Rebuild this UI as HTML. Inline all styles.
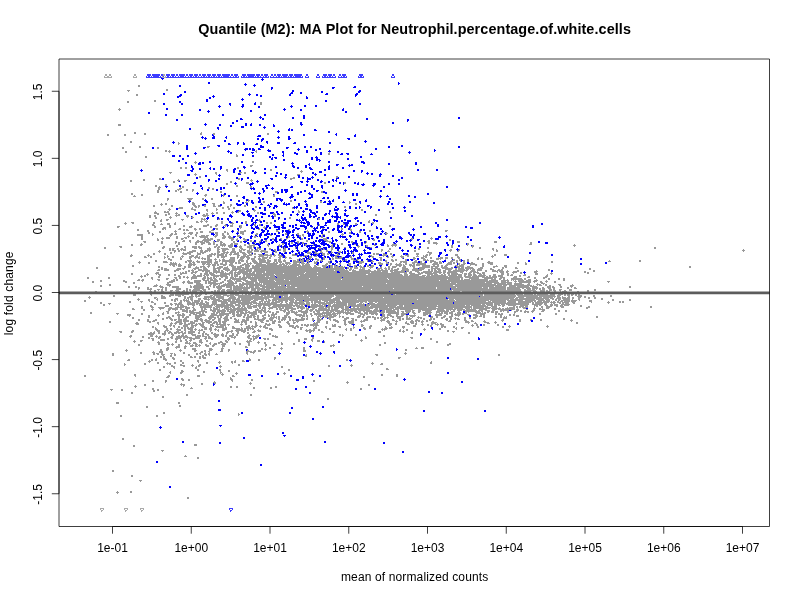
<!DOCTYPE html><html><head><meta charset="utf-8"><style>html,body{margin:0;padding:0;background:#fff;overflow:hidden}svg{display:block}</style></head><body><svg width="800" height="600" viewBox="0 0 800 600"><rect width="800" height="600" fill="#fff"/><g stroke-width="1" shape-rendering="crispEdges" fill="none"><path stroke="#999" d="M138 85.5h2m-2 1h2m26 3h2m-41 1h3m36 0h2m-40 1h1m7 3h2m-2 1h2m16 5h2m-29 1h2m25 0h2m-29 1h2m131 0h2m-2 1h2m-2 1h2m-143 4h1m-2 1h3m-2 1h1m-2 14h3m-3 1h3m13 7h2m65 0h1m-68 1h2m8 0h2m54 0h2m11 0h2m52 0h2m-162 1h2m15 0h2m18 0h2m54 0h2m11 0h2m52 0h2m-162 1h2m15 0h2m4 6h2m-2 1h2m46 0h1m-1 1h2m-2 1h1m-40 2h2m66 0h3m-88 1h2m15 0h2m16 0h2m48 0h2m-87 1h2m33 0h2m6 2h2m2 0h1m86 0h1m-132 1h2m38 0h2m1 0h3m84 0h2m-132 1h2m42 0h1m86 0h1m72 0h1m-2 1h2m-94 1h1m91 0h2m-94 1h2m-93 1h2m89 0h2m-93 1h2m48 4h1m56 0h2m-60 1h3m55 0h2m-59 1h1m54 2h3m-3 1h2m-72 1h2m3 0h2m50 0h2m-59 1h2m3 0h2m50 0h2m-13 1h2m42 0h2m-46 1h2m42 0h2m29 0h1m-75 1h1m72 0h3m-134 1h3m43 0h2m22 0h3m2 0h2m55 0h1m-132 1h1m24 0h1m19 0h2m23 0h1m3 0h2m-52 1h3m19 0h1m80 0h3m-105 1h1m101 0h1m-99 1h2m135 0h2m-139 1h2m92 0h2m41 0h2m-179 1h2m77 0h2m50 0h5m-152 1h2m14 0h3m16 0h1m59 0h2m11 0h1m38 0h2m-162 1h2m11 0h2m32 0h3m4 0h3m63 0h3m-123 1h2m41 0h2m3 0h1m5 0h2m44 0h2m19 0h1m-79 1h2m55 0h2m14 0h3m75 0h2m18 0h2m-120 1h2m18 0h3m75 0h2m18 0h2m-181 1h2m59 0h2m-73 1h2m8 0h2m69 0h2m-83 1h2m2 0h1m22 0h2m52 0h2m12 0h2m-94 1h3m19 0h1m1 0h2m24 0h2m40 0h2m-94 1h2m19 0h3m26 0h2m2 0h2m-56 1h2m17 0h4m5 0h2m4 0h2m18 0h2m-57 1h2m16 0h2m1 0h1m7 0h2m4 0h2m-37 1h2m16 0h2m3 0h2m10 0h1m27 0h2m53 0h3m43 0h2m-166 1h2m21 0h2m38 0h2m53 0h2m44 0h2m-192 1h2m-2 1h2m8 0h2m62 0h2m16 0h1m50 0h1m-141 1h1m6 0h2m61 0h3m16 0h2m11 0h2m35 0h2m-142 1h3m69 0h1m17 0h1m12 0h2m35 0h2m-108 2h2m18 0h6m9 0h2m7 0h2m-46 1h2m19 0h4m10 0h2m7 0h2m35 0h1m-82 1h1m22 0h1m57 0h2m40 0h2m-69 1h1m22 0h1m1 0h1m14 0h2m25 0h2m28 0h2m27 0h1m-158 1h2m29 0h2m20 0h3m15 0h2m55 0h2m27 0h2m-190 1h1m3 0h2m25 0h3m17 0h3m8 0h2m124 0h1m5 0h2m-197 1h3m2 0h2m25 0h3m18 0h2m15 0h2m123 0h2m-204 1h2m6 0h1m9 0h2m20 0h3m2 0h2m4 0h2m7 0h2m3 0h2m10 0h2m12 0h2m-93 1h2m16 0h2m21 0h3m1 0h2m4 0h2m7 0h3m2 0h3m6 0h2m1 0h1m13 0h2m9 0h2m87 0h2m-167 1h4m9 0h1m2 0h2m1 0h1m23 0h2m3 0h2m4 0h2m20 0h2m35 0h1m51 0h2m-177 1h1m8 0h5m8 0h2m23 0h1m5 0h2m4 0h2m3 0h2m57 0h2m-126 1h3m20 0h5m10 0h2m8 0h2m10 0h2m24 0h1m106 0h2m-194 1h1m24 0h2m10 0h2m8 0h1m22 0h2m12 0h3m42 0h1m62 0h2m-208 1h1m8 0h2m1 0h2m38 0h1m24 0h1m5 0h3m13 0h1m43 0h2m89 0h2m-237 1h3m7 0h5m7 0h1m35 0h1m3 0h2m5 0h2m6 0h3m3 0h2m18 0h2m39 0h2m89 0h2m-237 1h5m9 0h2m5 0h3m28 0h2m3 0h3m2 0h2m5 0h2m7 0h1m24 0h2m14 0h2m-118 1h2m6 0h2m1 0h2m6 0h1m1 0h2m23 0h2m1 0h2m4 0h1m60 0h3m99 0h2m-228 1h2m3 0h2m9 0h2m8 0h5m6 0h3m13 0h7m65 0h2m99 0h2m-228 1h2m3 0h2m14 0h1m5 0h1m9 0h3m3 0h1m10 0h3m1 0h1m66 0h2m-127 1h2m4 0h2m12 0h3m15 0h1m3 0h3m95 0h2m-136 1h2m13 0h1m21 0h1m8 0h2m1 0h1m14 0h1m69 0h2m27 0h2m-159 1h1m4 0h3m12 0h3m17 0h5m12 0h2m39 0h1m58 0h2m-160 1h2m4 0h2m14 0h1m18 0h1m2 0h1m1 0h1m51 0h3m108 0h1m-210 1h2m34 0h2m2 0h3m2 0h3m13 0h2m22 0h2m12 0h1m108 0h2m-245 1h1m5 0h3m19 0h2m20 0h1m20 0h3m2 0h1m4 0h1m14 0h2m9 0h1m12 0h2m19 0h2m2 0h2m96 0h2m2 0h2m-250 1h3m5 0h2m19 0h2m6 0h1m5 0h3m4 0h2m45 0h2m7 0h4m11 0h2m19 0h2m2 0h2m65 0h2m4 0h1m11 0h2m15 0h2m-249 1h1m26 0h2m6 0h3m4 0h3m4 0h2m31 0h2m7 0h2m7 0h1m6 0h1m21 0h2m3 0h2m58 0h1m17 0h2m4 0h2m10 0h2m-205 1h3m14 0h2m12 0h2m6 0h1m11 0h6m6 0h3m6 0h3m3 0h3m6 0h3m12 0h2m3 0h2m56 0h1m1 0h1m69 0h2m-274 1h3m34 0h2m13 0h2m12 0h2m4 0h4m10 0h4m3 0h2m3 0h2m8 0h1m4 0h3m7 0h2m22 0h1m81 0h2m41 0h2m-274 1h2m35 0h2m7 0h3m3 0h2m18 0h3m18 0h2m27 0h3m21 0h3m45 0h2m-151 1h4m13 0h2m13 0h2m3 0h2m14 0h3m22 0h1m18 0h1m4 0h1m57 0h2m17 0h2m7 0h1m-214 1h2m23 0h2m1 0h1m12 0h3m2 0h2m1 0h2m6 0h3m2 0h2m11 0h1m3 0h2m40 0h2m28 0h2m51 0h2m7 0h2m-215 1h2m8 0h2m26 0h1m7 0h2m1 0h3m6 0h1m15 0h3m19 0h1m10 0h2m30 0h2m11 0h1m17 0h1m42 0h2m7 0h1m9 0h2m74 0h3m-301 1h2m10 0h2m13 0h3m23 0h3m6 0h2m13 0h2m11 0h2m1 0h6m30 0h3m27 0h3m19 0h2m29 0h2m8 0h2m74 0h2m-299 1h2m9 0h2m14 0h1m8 0h1m4 0h4m3 0h2m2 0h3m6 0h5m1 0h3m6 0h2m1 0h1m10 0h1m1 0h4m63 0h1m20 0h2m19 0h2m8 0h2m25 0h1m-239 1h2m2 0h1m18 0h2m2 0h2m6 0h3m2 0h5m3 0h2m17 0h3m4 0h2m3 0h2m11 0h4m12 0h2m27 0h2m10 0h2m43 0h1m6 0h2m34 0h3m-251 1h6m9 0h2m16 0h3m1 0h3m7 0h1m5 0h2m3 0h2m19 0h2m4 0h2m3 0h2m13 0h2m11 0h3m12 0h1m14 0h2m10 0h2m3 0h2m18 0h3m16 0h3m42 0h1m-250 1h6m9 0h1m16 0h3m16 0h1m6 0h2m4 0h4m1 0h3m6 0h3m4 0h3m4 0h1m7 0h3m30 0h2m27 0h2m1 0h2m18 0h1m19 0h1m-202 1h2m27 0h1m5 0h2m9 0h3m6 0h1m2 0h9m6 0h3m6 0h3m2 0h3m6 0h3m14 0h3m31 0h2m9 0h2m2 0h1m17 0h2m-182 1h2m19 0h1m3 0h4m6 0h2m6 0h3m1 0h1m3 0h2m6 0h8m7 0h1m6 0h4m2 0h5m21 0h2m32 0h2m31 0h2m3 0h1m104 0h1m-291 1h2m14 0h1m3 0h3m2 0h4m6 0h2m3 0h3m1 0h2m5 0h2m10 0h2m1 0h2m1 0h3m9 0h3m4 0h5m3 0h1m5 0h2m27 0h2m6 0h2m4 0h2m13 0h2m20 0h4m51 0h1m32 0h2m17 0h3m-292 1h2m14 0h2m3 0h1m18 0h2m20 0h10m4 0h3m11 0h3m2 0h2m5 0h4m25 0h2m7 0h1m4 0h1m14 0h2m20 0h4m46 0h2m36 0h2m18 0h1m17 0h2m-294 1h2m24 0h2m4 0h2m6 0h2m3 0h9m6 0h3m11 0h2m3 0h2m6 0h3m3 0h2m8 0h1m4 0h2m39 0h2m16 0h4m45 0h2m53 0h2m19 0h2m-308 1h3m15 0h2m12 0h2m5 0h3m4 0h2m5 0h7m1 0h5m4 0h2m1 0h3m1 0h2m11 0h2m5 0h2m8 0h2m1 0h1m5 0h2m4 0h2m30 0h2m7 0h2m18 0h5m20 0h2m13 0h1m60 0h3m27 0h3m34 0h3m-353 1h2m15 0h2m12 0h2m1 0h2m10 0h1m4 0h4m1 0h5m1 0h4m3 0h2m5 0h3m10 0h2m5 0h2m12 0h2m3 0h1m31 0h2m4 0h2m3 0h2m25 0h2m20 0h2m13 0h1m61 0h2m3 0h4m20 0h3m34 0h3m33 0h2m-391 1h1m19 0h2m12 0h1m2 0h2m15 0h2m4 0h4m3 0h3m2 0h2m5 0h2m1 0h2m6 0h2m1 0h4m11 0h1m9 0h1m22 0h2m7 0h2m5 0h1m3 0h2m31 0h1m5 0h2m21 0h2m27 0h1m34 0h2m3 0h5m29 0h2m61 0h2m-401 1h2m7 0h3m35 0h2m15 0h2m4 0h2m5 0h3m2 0h2m1 0h2m2 0h6m4 0h3m1 0h4m6 0h2m2 0h2m3 0h2m12 0h2m10 0h1m2 0h2m21 0h2m6 0h1m18 0h1m2 0h1m5 0h2m11 0h2m18 0h1m12 0h1m4 0h5m39 0h1m30 0h2m60 0h3m42 0h1m-444 1h2m7 0h2m34 0h2m38 0h2m2 0h6m2 0h5m7 0h1m3 0h2m3 0h6m12 0h2m9 0h3m24 0h2m6 0h1m17 0h2m25 0h1m7 0h2m6 0h2m11 0h2m2 0h6m54 0h2m14 0h1m4 0h2m99 0h3m-457 1h3m41 0h2m11 0h2m6 0h2m6 0h5m1 0h2m14 0h3m1 0h2m2 0h1m1 0h1m3 0h5m4 0h1m1 0h3m5 0h5m1 0h2m13 0h1m10 0h1m2 0h1m13 0h1m34 0h2m24 0h3m6 0h2m19 0h2m3 0h1m2 0h1m55 0h2m18 0h3m100 0h1m-471 1h2m14 0h2m40 0h3m19 0h2m6 0h5m1 0h4m7 0h1m4 0h2m1 0h3m9 0h3m3 0h2m2 0h3m5 0h5m1 0h1m3 0h2m23 0h1m1 0h1m10 0h1m23 0h2m10 0h3m10 0h2m12 0h1m11 0h2m55 0h2m22 0h2m19 0h1m6 0h2m173 0h2m-552 1h2m56 0h2m5 0h2m1 0h3m2 0h2m2 0h2m2 0h1m8 0h3m2 0h3m5 0h4m6 0h2m2 0h7m4 0h3m5 0h3m6 0h3m5 0h4m8 0h2m13 0h2m9 0h1m23 0h2m2 0h1m7 0h2m56 0h2m27 0h2m7 0h2m50 0h2m11 0h2m160 0h2m-487 1h2m1 0h2m3 0h2m1 0h6m15 0h1m5 0h4m6 0h3m2 0h7m3 0h3m4 0h1m1 0h5m3 0h1m1 0h2m3 0h2m1 0h2m8 0h2m3 0h2m3 0h2m2 0h3m35 0h1m1 0h2m6 0h2m48 0h2m6 0h2m27 0h2m30 0h2m7 0h1m32 0h2m2 0h1m246 0h1m-585 1h1m9 0h2m1 0h4m2 0h2m1 0h1m1 0h3m6 0h4m4 0h3m2 0h6m6 0h2m3 0h4m6 0h3m4 0h3m1 0h2m2 0h3m1 0h2m1 0h5m2 0h5m8 0h2m3 0h2m2 0h3m35 0h1m4 0h2m3 0h1m49 0h2m5 0h1m25 0h2m33 0h3m6 0h2m33 0h1m2 0h2m244 0h3m-587 1h3m13 0h2m2 0h2m9 0h7m4 0h3m1 0h4m1 0h1m7 0h3m2 0h3m2 0h1m3 0h5m3 0h3m5 0h5m2 0h5m1 0h8m4 0h1m2 0h2m6 0h3m12 0h2m8 0h1m5 0h2m4 0h2m4 0h2m3 0h1m6 0h3m40 0h1m5 0h3m24 0h2m12 0h1m21 0h1m6 0h2m37 0h2m245 0h1m-585 1h1m10 0h2m2 0h1m8 0h1m3 0h6m4 0h1m2 0h6m11 0h3m3 0h6m1 0h6m1 0h2m1 0h5m2 0h6m8 0h1m2 0h4m5 0h1m1 0h2m7 0h1m22 0h4m4 0h2m3 0h3m8 0h2m5 0h3m11 0h2m73 0h5m-279 1h2m9 0h2m4 0h2m10 0h9m6 0h4m1 0h2m7 0h2m1 0h2m1 0h2m2 0h4m1 0h2m2 0h2m2 0h5m3 0h4m2 0h2m1 0h1m2 0h2m41 0h1m9 0h4m3 0h5m3 0h3m2 0h2m1 0h1m6 0h1m14 0h2m19 0h2m1 0h3m4 0h2m5 0h2m24 0h3m10 0h3m-301 1h1m16 0h1m4 0h2m9 0h2m17 0h4m2 0h2m6 0h4m8 0h7m1 0h7m1 0h2m2 0h3m1 0h6m4 0h4m2 0h4m1 0h2m2 0h5m1 0h4m2 0h2m2 0h1m3 0h2m12 0h3m2 0h1m19 0h1m4 0h3m2 0h2m8 0h2m34 0h2m1 0h3m4 0h4m3 0h2m13 0h1m2 0h1m7 0h3m7 0h2m1 0h2m24 0h3m36 0h2m8 0h3m-377 1h3m14 0h3m17 0h1m14 0h1m8 0h3m2 0h2m9 0h5m2 0h1m2 0h7m1 0h2m3 0h1m6 0h3m3 0h3m1 0h5m7 0h13m1 0h3m2 0h4m10 0h5m7 0h4m8 0h1m6 0h2m10 0h4m31 0h2m10 0h5m5 0h1m8 0h1m3 0h4m8 0h1m5 0h1m1 0h3m1 0h1m25 0h3m34 0h1m1 0h2m8 0h3m-377 1h2m12 0h2m2 0h1m1 0h2m12 0h1m2 0h2m3 0h2m7 0h3m5 0h5m1 0h3m1 0h1m7 0h5m5 0h2m2 0h6m10 0h2m2 0h8m5 0h2m2 0h6m3 0h1m2 0h2m2 0h1m4 0h4m2 0h1m14 0h2m1 0h2m1 0h1m2 0h3m2 0h3m15 0h1m2 0h2m4 0h1m8 0h2m8 0h1m10 0h3m9 0h1m4 0h1m2 0h3m6 0h4m3 0h2m7 0h3m4 0h4m30 0h2m32 0h3m-350 1h3m3 0h2m12 0h2m1 0h1m4 0h2m6 0h1m1 0h1m6 0h3m2 0h6m2 0h1m4 0h3m7 0h2m2 0h4m5 0h5m2 0h2m1 0h5m1 0h4m4 0h2m3 0h1m2 0h6m1 0h2m7 0h3m1 0h1m2 0h2m2 0h2m18 0h3m11 0h2m7 0h1m2 0h3m1 0h4m7 0h2m20 0h2m5 0h3m5 0h2m3 0h1m8 0h3m9 0h2m6 0h3m1 0h2m3 0h2m6 0h1m1 0h3m2 0h3m3 0h2m4 0h3m18 0h1m13 0h1m-329 1h1m3 0h2m10 0h2m7 0h2m4 0h1m2 0h2m1 0h5m1 0h3m5 0h1m7 0h1m6 0h5m2 0h1m2 0h4m3 0h3m1 0h4m3 0h3m1 0h5m2 0h2m8 0h2m4 0h1m3 0h3m7 0h2m1 0h1m6 0h2m4 0h2m6 0h2m7 0h2m1 0h7m9 0h3m26 0h2m20 0h1m10 0h3m5 0h4m5 0h2m4 0h7m2 0h3m3 0h2m5 0h2m17 0h2m2 0h2m-315 1h4m8 0h2m8 0h1m11 0h1m1 0h2m1 0h5m2 0h3m2 0h1m2 0h3m4 0h6m4 0h4m4 0h2m2 0h4m3 0h7m2 0h2m5 0h3m1 0h3m3 0h1m12 0h2m1 0h1m1 0h2m3 0h2m1 0h1m4 0h4m2 0h1m1 0h2m7 0h2m11 0h2m4 0h3m2 0h3m21 0h2m9 0h2m2 0h2m8 0h2m6 0h2m8 0h3m1 0h1m8 0h3m1 0h1m4 0h1m7 0h2m4 0h2m6 0h2m8 0h2m2 0h2m-328 1h2m13 0h2m15 0h5m5 0h1m9 0h5m3 0h1m3 0h2m1 0h13m3 0h6m2 0h2m4 0h4m3 0h7m1 0h4m3 0h3m1 0h3m2 0h3m7 0h3m1 0h2m1 0h4m2 0h3m8 0h2m1 0h3m7 0h2m10 0h2m1 0h2m6 0h3m1 0h1m9 0h1m4 0h1m7 0h2m3 0h2m4 0h3m1 0h2m8 0h2m8 0h2m6 0h6m1 0h4m17 0h4m1 0h2m1 0h2m2 0h2m2 0h2m140 0h1m29 0h2m-502 1h1m15 0h2m6 0h4m18 0h2m1 0h4m1 0h1m2 0h4m1 0h11m3 0h3m1 0h1m2 0h13m3 0h2m1 0h3m2 0h2m4 0h5m2 0h7m1 0h4m3 0h3m1 0h4m1 0h3m7 0h11m2 0h3m5 0h1m1 0h2m3 0h1m6 0h2m29 0h5m3 0h1m3 0h3m11 0h2m5 0h2m6 0h7m7 0h3m3 0h2m8 0h6m3 0h2m9 0h3m3 0h2m2 0h1m2 0h2m2 0h2m19 0h2m61 0h2m55 0h3m28 0h2m-503 1h3m7 0h2m13 0h5m2 0h2m1 0h1m1 0h1m9 0h2m2 0h2m1 0h3m2 0h3m1 0h11m2 0h4m4 0h1m2 0h2m2 0h5m1 0h2m1 0h3m5 0h2m2 0h1m2 0h5m1 0h11m3 0h2m1 0h2m1 0h3m3 0h5m3 0h7m1 0h3m4 0h2m4 0h3m11 0h2m29 0h5m8 0h1m5 0h3m5 0h2m12 0h2m1 0h4m5 0h6m2 0h2m2 0h1m5 0h2m2 0h4m1 0h3m6 0h4m1 0h2m1 0h2m5 0h2m6 0h2m14 0h6m24 0h2m6 0h1m25 0h2m-414 1h1m8 0h2m20 0h7m2 0h1m9 0h3m1 0h2m7 0h4m1 0h3m1 0h1m2 0h4m2 0h3m2 0h2m3 0h3m2 0h2m1 0h3m3 0h2m1 0h5m2 0h8m4 0h12m2 0h1m1 0h2m1 0h6m2 0h4m2 0h1m1 0h4m1 0h3m5 0h3m9 0h2m1 0h2m8 0h2m7 0h3m7 0h4m16 0h5m3 0h3m1 0h2m4 0h1m2 0h2m4 0h2m5 0h3m2 0h9m7 0h5m1 0h3m5 0h5m1 0h2m3 0h2m3 0h3m4 0h5m7 0h2m4 0h5m24 0h2m6 0h2m-358 1h8m1 0h3m7 0h8m6 0h3m1 0h5m1 0h4m1 0h2m1 0h7m2 0h4m9 0h7m1 0h1m5 0h10m1 0h10m2 0h6m1 0h2m1 0h1m2 0h8m2 0h2m1 0h5m8 0h1m6 0h3m7 0h1m3 0h2m7 0h3m28 0h4m5 0h1m1 0h2m3 0h7m1 0h1m1 0h2m2 0h3m1 0h2m1 0h10m6 0h7m7 0h6m6 0h2m1 0h4m5 0h7m5 0h2m6 0h3m32 0h2m-395 1h2m36 0h1m1 0h3m1 0h1m1 0h4m6 0h4m1 0h2m8 0h1m4 0h2m2 0h4m1 0h2m4 0h3m3 0h5m6 0h4m1 0h5m2 0h2m1 0h27m1 0h4m1 0h1m1 0h11m1 0h8m4 0h2m1 0h2m3 0h5m1 0h1m1 0h3m1 0h2m1 0h1m11 0h2m3 0h3m3 0h1m6 0h2m2 0h3m16 0h1m5 0h6m1 0h2m4 0h6m1 0h4m2 0h8m3 0h2m2 0h2m2 0h2m2 0h3m7 0h3m1 0h5m6 0h1m4 0h2m5 0h2m12 0h1m7 0h3m-375 1h2m24 0h2m13 0h2m3 0h3m3 0h2m2 0h3m5 0h1m3 0h5m2 0h3m3 0h2m4 0h4m4 0h1m3 0h5m1 0h5m3 0h5m2 0h45m1 0h13m3 0h3m5 0h5m1 0h1m1 0h3m1 0h5m1 0h3m1 0h1m9 0h2m3 0h3m1 0h1m3 0h2m1 0h4m7 0h1m6 0h2m2 0h5m2 0h2m2 0h3m4 0h1m1 0h3m7 0h8m1 0h8m2 0h2m1 0h3m7 0h1m1 0h8m3 0h3m12 0h2m9 0h5m6 0h3m182 0h2m-595 1h2m60 0h2m1 0h2m21 0h2m2 0h3m4 0h4m1 0h2m1 0h3m2 0h1m4 0h2m2 0h6m1 0h4m4 0h4m1 0h7m1 0h4m3 0h8m1 0h51m1 0h8m2 0h3m2 0h1m1 0h3m1 0h11m2 0h2m1 0h3m1 0h4m2 0h5m4 0h4m7 0h2m3 0h1m2 0h2m2 0h4m6 0h4m7 0h2m4 0h11m1 0h2m2 0h3m3 0h7m3 0h2m4 0h3m1 0h3m1 0h8m7 0h3m10 0h2m7 0h2m1 0h2m8 0h2m172 0h2m-595 1h2m63 0h2m1 0h3m10 0h4m1 0h3m8 0h6m4 0h4m6 0h8m2 0h6m3 0h9m1 0h7m1 0h94m3 0h2m1 0h2m2 0h4m2 0h1m1 0h3m5 0h1m6 0h5m2 0h3m1 0h2m1 0h2m4 0h2m3 0h6m5 0h5m1 0h6m6 0h9m2 0h11m2 0h2m1 0h6m1 0h9m4 0h5m7 0h2m10 0h2m11 0h3m71 0h2m-433 1h2m1 0h2m1 0h5m7 0h5m2 0h1m8 0h1m1 0h2m2 0h4m1 0h5m5 0h3m2 0h2m3 0h7m2 0h20m2 0h91m1 0h1m2 0h3m1 0h1m5 0h6m3 0h2m7 0h3m1 0h2m2 0h2m1 0h2m1 0h2m1 0h5m3 0h7m3 0h12m4 0h2m1 0h2m1 0h2m1 0h4m4 0h7m3 0h2m1 0h7m1 0h3m1 0h1m1 0h3m2 0h5m8 0h4m4 0h2m1 0h2m45 0h2m39 0h2m-434 1h3m4 0h5m5 0h5m9 0h2m1 0h3m4 0h12m3 0h4m1 0h2m1 0h2m2 0h5m1 0h6m2 0h6m1 0h6m2 0h80m1 0h13m1 0h2m1 0h4m3 0h12m3 0h2m1 0h11m2 0h8m3 0h8m3 0h10m6 0h2m1 0h2m1 0h3m1 0h3m2 0h3m2 0h3m2 0h15m3 0h4m2 0h5m3 0h2m5 0h4m1 0h6m4 0h1m9 0h2m17 0h1m11 0h2m43 0h2m-421 1h2m9 0h2m1 0h2m2 0h2m1 0h3m4 0h2m1 0h5m3 0h7m1 0h3m3 0h1m2 0h3m2 0h1m2 0h14m1 0h12m1 0h71m2 0h10m3 0h29m1 0h6m2 0h3m1 0h11m1 0h3m1 0h2m3 0h4m4 0h10m1 0h7m2 0h3m2 0h16m2 0h1m3 0h6m1 0h1m7 0h2m5 0h6m1 0h5m2 0h3m4 0h6m15 0h4m46 0h2m7 0h2m-439 1h3m21 0h1m1 0h2m1 0h2m4 0h6m8 0h3m1 0h3m1 0h11m1 0h1m3 0h4m1 0h14m1 0h2m1 0h3m1 0h9m1 0h39m1 0h11m1 0h19m3 0h30m1 0h17m3 0h16m2 0h3m5 0h3m1 0h11m1 0h9m1 0h3m1 0h10m3 0h3m6 0h3m1 0h6m3 0h3m12 0h1m2 0h4m2 0h2m4 0h5m3 0h2m12 0h3m14 0h1m32 0h2m1 0h2m-458 1h2m14 0h1m7 0h4m21 0h7m4 0h2m2 0h1m4 0h2m2 0h4m1 0h5m2 0h1m3 0h13m1 0h2m1 0h4m1 0h13m1 0h6m1 0h20m1 0h20m1 0h95m4 0h3m2 0h6m3 0h5m2 0h12m2 0h2m2 0h2m2 0h3m1 0h7m4 0h1m1 0h3m1 0h3m2 0h2m2 0h4m1 0h3m16 0h3m3 0h2m4 0h1m6 0h2m13 0h3m12 0h3m34 0h2m-458 1h2m13 0h3m7 0h1m1 0h3m7 0h2m4 0h2m4 0h2m11 0h2m5 0h2m2 0h5m1 0h5m5 0h10m1 0h2m1 0h6m3 0h31m1 0h91m2 0h34m2 0h4m2 0h11m6 0h6m1 0h4m3 0h2m1 0h2m2 0h2m1 0h11m2 0h3m1 0h4m1 0h3m3 0h3m1 0h2m8 0h3m5 0h3m3 0h2m2 0h2m11 0h2m9 0h3m9 0h1m3 0h1m-411 1h1m2 0h2m1 0h1m11 0h2m7 0h2m4 0h2m2 0h2m13 0h3m1 0h5m1 0h2m1 0h3m2 0h16m2 0h1m1 0h2m1 0h4m5 0h2m1 0h29m1 0h23m1 0h17m1 0h85m1 0h4m1 0h10m3 0h4m1 0h3m1 0h15m2 0h9m1 0h4m2 0h2m2 0h4m1 0h4m1 0h8m3 0h2m2 0h3m2 0h5m4 0h2m1 0h3m6 0h2m2 0h3m20 0h2m-408 1h3m1 0h2m12 0h2m18 0h3m2 0h2m2 0h1m4 0h10m2 0h2m1 0h1m5 0h6m1 0h8m3 0h2m1 0h4m1 0h2m2 0h2m1 0h5m1 0h1m1 0h11m1 0h3m1 0h5m1 0h21m1 0h127m1 0h22m1 0h13m2 0h7m1 0h13m1 0h2m1 0h2m1 0h5m1 0h5m11 0h3m2 0h2m7 0h2m15 0h3m-461 1h2m19 0h2m31 0h1m9 0h2m5 0h2m14 0h3m2 0h2m2 0h2m1 0h3m2 0h6m6 0h3m1 0h2m1 0h2m1 0h2m1 0h1m4 0h2m2 0h3m2 0h4m1 0h1m3 0h2m1 0h34m1 0h65m1 0h120m2 0h14m3 0h15m3 0h5m8 0h4m10 0h3m4 0h2m7 0h4m-460 1h2m19 0h2m41 0h2m13 0h3m6 0h2m2 0h2m6 0h1m3 0h6m5 0h4m1 0h5m1 0h3m3 0h2m4 0h3m2 0h17m1 0h61m1 0h77m1 0h72m1 0h2m6 0h10m5 0h9m1 0h2m3 0h3m1 0h2m6 0h11m2 0h2m8 0h2m7 0h2m3 0h2m8 0h2m3 0h2m-427 1h2m2 0h2m8 0h1m4 0h3m6 0h2m5 0h2m1 0h2m13 0h1m10 0h3m2 0h2m1 0h3m1 0h3m2 0h2m3 0h2m3 0h2m1 0h14m4 0h7m1 0h10m1 0h15m1 0h56m1 0h46m1 0h58m1 0h12m1 0h2m1 0h6m1 0h17m3 0h5m3 0h2m2 0h2m2 0h1m3 0h12m1 0h2m2 0h3m5 0h1m11 0h2m8 0h2m3 0h2m-465 1h2m21 0h2m12 0h3m1 0h3m14 0h2m11 0h4m1 0h2m10 0h1m5 0h7m2 0h6m1 0h8m6 0h2m1 0h5m2 0h1m1 0h5m2 0h5m3 0h6m1 0h16m1 0h14m1 0h149m1 0h48m1 0h9m3 0h8m2 0h1m1 0h1m1 0h1m2 0h6m2 0h5m3 0h4m8 0h1m16 0h2m-473 1h2m6 0h2m21 0h4m15 0h1m26 0h6m8 0h2m2 0h3m4 0h7m4 0h2m1 0h3m2 0h5m4 0h2m3 0h6m2 0h7m3 0h12m2 0h16m1 0h222m3 0h5m1 0h2m5 0h3m1 0h13m2 0h4m3 0h2m3 0h3m6 0h2m51 0h3m-518 1h2m31 0h2m6 0h2m32 0h6m9 0h3m2 0h6m1 0h6m5 0h2m1 0h8m4 0h4m4 0h6m1 0h2m5 0h2m2 0h8m1 0h3m1 0h191m1 0h34m1 0h13m2 0h11m3 0h1m3 0h12m3 0h1m5 0h3m3 0h1m7 0h2m52 0h1m-476 1h2m32 0h2m14 0h1m4 0h5m3 0h5m4 0h2m1 0h14m3 0h1m1 0h10m2 0h2m1 0h12m1 0h5m1 0h1m1 0h123m1 0h69m1 0h35m2 0h12m1 0h5m2 0h8m6 0h2m7 0h1m3 0h4m-436 1h2m45 0h1m9 0h5m25 0h7m7 0h2m1 0h5m1 0h1m3 0h11m5 0h23m1 0h233m1 0h15m2 0h10m3 0h3m6 0h5m2 0h1m1 0h2m11 0h3m11 0h1m-473 1h2m7 0h2m43 0h4m2 0h1m6 0h4m19 0h1m3 0h9m6 0h2m2 0h3m2 0h2m1 0h14m1 0h2m1 0h5m2 0h2m1 0h16m1 0h12m1 0h1m1 0h4m2 0h3m1 0h162m2 0h47m1 0h4m2 0h23m1 0h1m3 0h1m1 0h3m3 0h2m2 0h2m8 0h2m9 0h4m-474 1h2m26 0h2m5 0h2m16 0h4m2 0h4m6 0h1m2 0h7m11 0h2m1 0h11m2 0h3m1 0h1m2 0h2m1 0h9m1 0h6m1 0h10m1 0h1m1 0h2m1 0h5m1 0h4m1 0h102m1 0h131m1 0h11m3 0h7m1 0h12m1 0h7m10 0h4m1 0h2m6 0h2m8 0h3m56 0h2m-503 1h2m5 0h2m1 0h2m7 0h2m11 0h4m1 0h2m5 0h7m11 0h2m1 0h11m2 0h3m4 0h2m1 0h6m4 0h6m1 0h21m1 0h5m2 0h24m1 0h8m2 0h139m1 0h19m1 0h25m1 0h5m1 0h17m1 0h23m2 0h6m4 0h2m3 0h4m1 0h3m5 0h2m5 0h2m2 0h1m2 0h2m53 0h2m-493 1h2m7 0h2m1 0h2m10 0h1m2 0h2m9 0h5m5 0h2m6 0h10m4 0h2m7 0h5m8 0h2m1 0h17m1 0h14m1 0h8m1 0h51m1 0h66m1 0h42m1 0h13m1 0h37m1 0h17m1 0h13m2 0h2m2 0h5m1 0h6m1 0h2m1 0h3m3 0h3m2 0h2m12 0h2m5 0h3m-439 1h1m8 0h5m5 0h3m1 0h2m2 0h2m9 0h5m5 0h2m1 0h2m2 0h7m2 0h4m2 0h2m8 0h3m1 0h3m2 0h5m1 0h9m1 0h5m3 0h5m1 0h13m1 0h100m1 0h78m1 0h55m1 0h14m3 0h2m1 0h4m1 0h3m1 0h1m2 0h2m1 0h3m4 0h3m1 0h2m4 0h3m7 0h3m22 0h2m-446 1h1m3 0h2m2 0h1m2 0h2m2 0h2m3 0h3m2 0h4m4 0h2m1 0h2m1 0h2m1 0h10m1 0h3m8 0h2m1 0h3m1 0h4m1 0h22m3 0h5m1 0h3m1 0h191m1 0h68m3 0h12m4 0h5m1 0h2m1 0h3m1 0h3m3 0h2m3 0h2m3 0h3m15 0h2m5 0h2m-501 1h2m52 0h3m2 0h2m5 0h3m6 0h2m4 0h4m2 0h3m1 0h2m2 0h1m1 0h5m3 0h3m1 0h2m5 0h2m1 0h2m1 0h3m1 0h4m2 0h7m1 0h2m2 0h10m1 0h2m2 0h5m1 0h22m1 0h106m1 0h70m2 0h19m1 0h40m2 0h7m2 0h4m3 0h5m1 0h4m4 0h2m4 0h1m1 0h5m10 0h2m8 0h2m-494 1h2m53 0h1m11 0h2m8 0h2m1 0h5m1 0h4m1 0h1m1 0h1m6 0h5m3 0h3m5 0h2m1 0h9m4 0h4m1 0h20m1 0h137m1 0h73m1 0h57m2 0h2m1 0h4m2 0h2m5 0h3m3 0h4m1 0h1m7 0h7m11 0h2m-429 1h2m20 0h2m1 0h2m2 0h4m1 0h6m5 0h12m4 0h2m1 0h3m2 0h5m1 0h4m2 0h12m1 0h8m1 0h10m2 0h4m1 0h144m1 0h90m1 0h14m1 0h7m1 0h2m2 0h2m5 0h4m1 0h4m1 0h5m3 0h5m5 0h1m3 0h1m5 0h2m-447 1h3m14 0h2m18 0h4m1 0h14m2 0h2m2 0h3m1 0h3m3 0h2m6 0h14m3 0h9m3 0h1m2 0h2m1 0h4m3 0h15m1 0h17m2 0h101m2 0h2m1 0h87m1 0h31m1 0h7m1 0h9m1 0h2m1 0h11m2 0h5m3 0h5m1 0h2m1 0h3m1 0h3m1 0h2m1 0h2m-467 1h2m18 0h3m15 0h1m9 0h2m6 0h5m1 0h6m1 0h2m7 0h2m2 0h2m1 0h3m9 0h3m1 0h7m2 0h11m1 0h16m1 0h7m2 0h5m1 0h3m1 0h3m1 0h13m2 0h13m1 0h3m1 0h26m1 0h148m1 0h32m1 0h38m2 0h4m3 0h2m1 0h3m1 0h2m2 0h2m1 0h4m11 0h2m15 0h2m-523 1h1m23 0h2m46 0h4m4 0h2m7 0h3m3 0h2m3 0h5m1 0h5m4 0h8m1 0h2m1 0h8m3 0h2m1 0h5m3 0h25m1 0h10m1 0h4m2 0h2m1 0h4m1 0h45m2 0h143m1 0h36m2 0h20m1 0h17m1 0h3m2 0h1m5 0h2m7 0h5m2 0h2m7 0h2m15 0h2m-524 1h3m63 0h3m4 0h5m18 0h2m1 0h6m3 0h1m7 0h11m1 0h8m5 0h7m2 0h41m2 0h28m1 0h22m3 0h48m1 0h62m1 0h68m1 0h8m2 0h16m1 0h10m1 0h1m2 0h4m1 0h4m1 0h3m2 0h2m4 0h3m3 0h2m2 0h2m4 0h2m-507 1h1m48 0h1m15 0h2m1 0h1m3 0h5m9 0h3m6 0h2m1 0h2m1 0h3m5 0h3m2 0h4m1 0h1m1 0h6m2 0h6m4 0h8m1 0h3m1 0h28m4 0h21m1 0h36m2 0h113m2 0h66m1 0h3m1 0h30m1 0h4m2 0h5m1 0h8m2 0h2m4 0h2m8 0h2m4 0h2m5 0h2m-466 1h3m8 0h2m6 0h2m13 0h2m1 0h4m5 0h2m1 0h1m1 0h1m1 0h3m5 0h3m3 0h6m1 0h9m2 0h9m1 0h8m1 0h12m1 0h10m1 0h2m1 0h2m2 0h23m1 0h44m1 0h16m1 0h59m1 0h30m1 0h5m1 0h54m1 0h25m1 0h8m1 0h5m2 0h2m1 0h2m1 0h3m2 0h7m2 0h1m5 0h2m21 0h2m9 0h2m15 0h2m-547 1h2m52 0h1m9 0h2m7 0h1m13 0h2m1 0h2m1 0h1m2 0h2m1 0h6m2 0h2m1 0h6m1 0h2m5 0h1m4 0h9m1 0h8m1 0h3m1 0h15m2 0h5m3 0h3m2 0h1m1 0h3m1 0h5m1 0h10m1 0h5m1 0h8m1 0h14m1 0h2m1 0h18m2 0h113m1 0h33m1 0h16m1 0h16m2 0h11m2 0h7m1 0h4m5 0h2m1 0h2m1 0h9m1 0h6m2 0h1m9 0h3m20 0h2m15 0h2m-547 1h2m43 0h2m9 0h3m6 0h1m1 0h2m21 0h2m4 0h2m2 0h1m1 0h4m2 0h1m1 0h6m1 0h2m2 0h2m5 0h5m1 0h9m1 0h13m1 0h8m1 0h5m3 0h4m1 0h6m2 0h2m1 0h8m2 0h3m2 0h4m1 0h2m2 0h10m2 0h2m1 0h7m3 0h4m1 0h6m1 0h5m1 0h25m1 0h118m2 0h3m1 0h14m2 0h8m2 0h15m1 0h2m1 0h5m1 0h7m1 0h1m1 0h2m2 0h2m1 0h3m1 0h6m1 0h5m13 0h3m16 0h1m10 0h2m1 0h2m-524 1h2m27 0h2m10 0h1m9 0h3m10 0h2m13 0h3m5 0h4m1 0h7m1 0h3m2 0h4m3 0h5m4 0h7m2 0h27m2 0h2m1 0h1m1 0h2m1 0h3m1 0h9m1 0h2m2 0h2m2 0h15m2 0h4m1 0h2m1 0h11m1 0h33m1 0h3m2 0h2m2 0h4m2 0h2m1 0h75m1 0h52m1 0h9m2 0h13m1 0h2m1 0h14m1 0h6m1 0h4m1 0h7m3 0h3m16 0h1m15 0h3m9 0h2m1 0h2m-524 1h2m6 0h3m43 0h2m8 0h2m4 0h2m2 0h3m1 0h4m5 0h8m1 0h9m1 0h3m3 0h5m4 0h7m2 0h6m2 0h14m1 0h24m3 0h2m4 0h2m1 0h4m1 0h11m1 0h4m2 0h1m1 0h2m2 0h15m1 0h1m1 0h11m1 0h8m3 0h3m1 0h1m3 0h1m1 0h6m2 0h35m2 0h39m1 0h39m1 0h35m3 0h2m1 0h8m1 0h3m4 0h1m1 0h2m4 0h2m1 0h2m1 0h4m4 0h2m33 0h1m-506 1h2m4 0h1m44 0h2m14 0h3m2 0h8m4 0h8m1 0h2m1 0h10m2 0h14m1 0h7m2 0h5m1 0h8m1 0h3m3 0h1m1 0h35m2 0h3m1 0h11m1 0h7m1 0h2m1 0h5m1 0h3m2 0h14m1 0h8m1 0h8m1 0h20m1 0h94m1 0h3m1 0h7m1 0h6m1 0h4m1 0h23m3 0h10m2 0h3m3 0h3m1 0h4m3 0h9m-467 1h2m45 0h2m13 0h4m2 0h1m3 0h1m1 0h2m1 0h4m4 0h1m3 0h3m4 0h3m1 0h10m1 0h1m1 0h18m1 0h6m1 0h3m2 0h4m2 0h9m1 0h8m2 0h27m1 0h2m1 0h1m2 0h3m1 0h12m1 0h2m2 0h3m1 0h15m1 0h17m1 0h4m1 0h26m2 0h4m1 0h33m1 0h27m1 0h4m1 0h15m1 0h6m1 0h3m1 0h3m1 0h3m3 0h8m4 0h8m6 0h4m1 0h2m4 0h3m2 0h3m1 0h4m2 0h3m1 0h5m11 0h2m-441 1h2m7 0h3m12 0h4m8 0h2m1 0h7m6 0h1m6 0h12m3 0h14m1 0h5m3 0h3m1 0h3m2 0h10m1 0h3m2 0h2m3 0h2m2 0h20m1 0h2m1 0h8m3 0h1m2 0h16m1 0h17m1 0h5m1 0h18m1 0h26m1 0h6m1 0h68m1 0h15m3 0h6m5 0h2m9 0h2m1 0h2m1 0h5m1 0h3m6 0h1m1 0h2m3 0h2m3 0h6m4 0h2m2 0h4m16 0h2m6 0h2m60 0h2m-511 1h2m8 0h3m4 0h7m4 0h3m3 0h9m1 0h5m2 0h2m6 0h12m1 0h2m1 0h4m1 0h2m1 0h7m1 0h3m2 0h3m1 0h2m1 0h2m1 0h5m1 0h4m2 0h2m1 0h4m3 0h8m1 0h3m1 0h2m1 0h8m4 0h8m1 0h1m3 0h7m2 0h5m1 0h5m1 0h2m1 0h10m1 0h4m4 0h2m2 0h2m1 0h28m1 0h38m1 0h8m2 0h34m1 0h11m1 0h6m1 0h5m2 0h1m7 0h1m1 0h6m1 0h2m1 0h2m1 0h6m6 0h1m6 0h2m3 0h4m11 0h3m22 0h4m60 0h2m-520 1h2m7 0h2m9 0h1m6 0h5m4 0h10m2 0h2m3 0h5m3 0h2m6 0h2m1 0h2m4 0h1m2 0h5m1 0h1m4 0h5m1 0h2m1 0h14m1 0h4m5 0h1m1 0h2m1 0h4m2 0h5m3 0h2m1 0h5m1 0h11m1 0h2m1 0h5m1 0h3m3 0h3m3 0h9m1 0h2m1 0h2m1 0h5m2 0h3m1 0h4m1 0h23m2 0h3m1 0h15m1 0h58m1 0h9m2 0h5m1 0h1m1 0h17m1 0h10m1 0h2m1 0h10m2 0h1m5 0h3m7 0h3m3 0h2m1 0h1m3 0h3m5 0h2m30 0h2m-456 1h3m8 0h2m6 0h3m6 0h1m7 0h3m1 0h6m2 0h5m1 0h2m5 0h3m5 0h2m1 0h3m3 0h2m1 0h7m2 0h3m1 0h21m8 0h4m2 0h2m1 0h2m3 0h1m6 0h2m1 0h3m2 0h5m2 0h5m5 0h2m3 0h3m1 0h4m1 0h2m1 0h12m1 0h7m4 0h28m4 0h4m1 0h13m1 0h6m1 0h13m5 0h18m1 0h7m2 0h10m1 0h8m1 0h10m3 0h8m5 0h5m1 0h17m1 0h3m7 0h2m5 0h2m4 0h6m9 0h2m-413 1h2m7 0h1m15 0h2m5 0h1m6 0h6m1 0h2m1 0h4m5 0h4m5 0h6m1 0h9m1 0h2m1 0h6m1 0h11m7 0h11m2 0h1m11 0h6m1 0h2m1 0h3m5 0h4m3 0h3m1 0h4m2 0h25m1 0h3m1 0h12m1 0h14m1 0h7m2 0h3m1 0h9m2 0h2m6 0h6m1 0h3m3 0h3m1 0h10m5 0h8m1 0h3m1 0h1m2 0h2m2 0h5m1 0h14m1 0h5m2 0h5m2 0h3m5 0h9m2 0h1m4 0h3m1 0h2m3 0h1m6 0h3m7 0h3m13 0h2m5 0h2m-401 1h3m9 0h1m3 0h6m1 0h5m5 0h8m5 0h4m1 0h9m1 0h8m1 0h7m2 0h2m1 0h2m3 0h4m1 0h4m1 0h3m1 0h4m5 0h3m4 0h3m2 0h2m1 0h4m1 0h1m1 0h10m2 0h2m1 0h2m1 0h4m3 0h1m2 0h3m1 0h4m1 0h9m1 0h1m1 0h2m1 0h3m1 0h4m1 0h2m2 0h2m1 0h14m1 0h4m1 0h10m1 0h2m2 0h3m1 0h6m1 0h2m4 0h3m4 0h6m5 0h13m2 0h4m3 0h2m5 0h15m1 0h2m4 0h3m1 0h3m1 0h3m2 0h2m1 0h1m3 0h2m5 0h4m2 0h2m2 0h5m2 0h3m7 0h3m14 0h2m5 0h2m-477 1h2m71 0h1m3 0h2m6 0h5m6 0h2m1 0h12m1 0h2m1 0h2m6 0h2m1 0h4m1 0h4m4 0h6m1 0h3m1 0h4m1 0h12m1 0h4m2 0h3m2 0h2m1 0h2m2 0h3m5 0h1m1 0h4m1 0h7m3 0h7m5 0h2m2 0h3m2 0h10m1 0h2m2 0h14m4 0h6m3 0h4m1 0h8m2 0h6m1 0h13m3 0h2m2 0h4m2 0h3m3 0h2m3 0h9m4 0h4m1 0h2m1 0h4m1 0h4m4 0h4m4 0h2m1 0h1m6 0h6m1 0h1m1 0h2m1 0h2m2 0h3m1 0h3m9 0h2m5 0h2m8 0h2m1 0h2m3 0h1m-443 1h2m24 0h3m22 0h2m19 0h2m3 0h2m6 0h2m1 0h1m3 0h2m6 0h5m1 0h5m1 0h2m7 0h4m1 0h2m1 0h12m1 0h3m2 0h2m1 0h7m2 0h8m3 0h2m3 0h1m6 0h2m1 0h2m9 0h4m4 0h3m6 0h4m3 0h2m2 0h17m1 0h9m2 0h1m1 0h9m4 0h5m1 0h4m1 0h9m2 0h4m4 0h11m2 0h7m5 0h3m7 0h8m5 0h1m2 0h4m1 0h4m1 0h4m2 0h1m1 0h4m1 0h5m9 0h10m9 0h2m1 0h2m1 0h2m11 0h1m24 0h2m14 0h2m-440 1h1m9 0h4m10 0h2m15 0h1m3 0h2m13 0h4m1 0h3m4 0h2m2 0h4m2 0h6m6 0h6m2 0h10m3 0h3m1 0h6m2 0h2m1 0h2m2 0h6m7 0h2m2 0h1m2 0h6m9 0h3m6 0h7m1 0h2m1 0h1m3 0h2m2 0h9m1 0h1m1 0h10m1 0h1m1 0h1m6 0h2m2 0h4m6 0h5m1 0h2m3 0h3m1 0h3m4 0h3m2 0h4m5 0h3m2 0h5m8 0h1m8 0h5m1 0h2m4 0h7m4 0h2m3 0h2m1 0h7m1 0h2m3 0h3m3 0h4m3 0h5m10 0h2m1 0h5m6 0h2m2 0h2m24 0h2m14 0h2m-430 1h4m17 0h2m7 0h3m12 0h2m3 0h8m4 0h2m4 0h11m4 0h14m2 0h3m4 0h2m1 0h6m2 0h2m1 0h2m1 0h5m2 0h2m3 0h4m2 0h2m1 0h4m9 0h4m8 0h9m1 0h2m3 0h2m3 0h1m1 0h3m1 0h10m1 0h4m2 0h1m18 0h3m2 0h2m11 0h1m5 0h3m2 0h5m4 0h2m3 0h3m2 0h2m1 0h7m7 0h3m2 0h1m6 0h7m2 0h2m5 0h2m2 0h5m8 0h1m4 0h5m2 0h2m1 0h2m15 0h2m7 0h2m2 0h2m1 0h3m-390 1h1m18 0h2m8 0h1m9 0h2m2 0h2m4 0h2m2 0h2m2 0h3m6 0h7m7 0h5m3 0h2m1 0h2m3 0h3m4 0h3m2 0h4m2 0h2m2 0h5m1 0h3m1 0h2m3 0h2m4 0h2m1 0h1m1 0h2m1 0h1m1 0h2m4 0h3m1 0h2m9 0h2m1 0h3m1 0h2m3 0h1m5 0h11m1 0h7m3 0h2m1 0h2m13 0h4m1 0h2m3 0h4m1 0h2m7 0h4m2 0h1m2 0h4m2 0h7m3 0h2m2 0h5m3 0h1m9 0h1m2 0h2m3 0h2m5 0h3m3 0h4m5 0h1m16 0h3m1 0h3m1 0h2m10 0h2m3 0h2m2 0h1m1 0h1m9 0h3m77 0h2m-466 1h2m14 0h2m16 0h5m7 0h2m2 0h2m1 0h4m6 0h5m8 0h8m1 0h2m1 0h2m2 0h4m2 0h2m11 0h2m1 0h6m1 0h2m2 0h2m4 0h3m4 0h7m1 0h2m2 0h5m1 0h3m10 0h2m4 0h1m9 0h2m1 0h1m1 0h1m2 0h9m5 0h1m2 0h2m2 0h3m8 0h3m2 0h2m2 0h5m1 0h4m1 0h2m1 0h3m1 0h5m3 0h2m3 0h4m5 0h2m1 0h1m2 0h1m4 0h5m8 0h3m3 0h2m3 0h4m4 0h3m3 0h1m8 0h2m3 0h2m2 0h4m6 0h2m10 0h2m3 0h2m1 0h4m89 0h2m-466 1h2m28 0h2m2 0h2m1 0h3m6 0h2m4 0h3m8 0h4m1 0h2m6 0h4m2 0h2m2 0h3m2 0h5m2 0h2m2 0h2m10 0h3m5 0h2m1 0h2m3 0h4m3 0h5m2 0h1m1 0h2m2 0h4m3 0h2m4 0h2m4 0h4m1 0h2m4 0h2m3 0h3m1 0h1m6 0h3m13 0h5m2 0h3m12 0h2m6 0h2m1 0h2m1 0h2m1 0h3m1 0h1m9 0h4m1 0h2m2 0h6m6 0h1m1 0h2m1 0h2m5 0h2m1 0h2m6 0h2m3 0h2m2 0h2m2 0h5m5 0h2m3 0h2m2 0h3m27 0h4m56 0h2m-427 1h2m7 0h2m6 0h2m5 0h2m6 0h3m1 0h3m1 0h4m1 0h4m9 0h7m2 0h2m2 0h2m1 0h3m3 0h3m3 0h5m5 0h3m1 0h1m3 0h3m1 0h3m5 0h11m4 0h4m5 0h2m1 0h5m3 0h2m1 0h2m1 0h10m1 0h2m4 0h2m3 0h6m6 0h2m2 0h3m8 0h3m5 0h2m1 0h2m7 0h4m6 0h2m5 0h4m7 0h2m5 0h2m1 0h2m2 0h5m5 0h2m5 0h2m4 0h3m1 0h2m10 0h3m2 0h2m3 0h1m1 0h3m4 0h2m36 0h2m15 0h2m9 0h2m8 0h2m21 0h2m6 0h1m-434 1h2m7 0h2m4 0h4m14 0h2m1 0h2m2 0h4m1 0h6m5 0h4m2 0h3m1 0h6m2 0h2m4 0h3m3 0h5m6 0h4m3 0h7m9 0h6m2 0h3m1 0h3m1 0h2m3 0h1m1 0h2m1 0h1m4 0h2m1 0h12m8 0h2m3 0h4m9 0h1m2 0h5m5 0h3m5 0h3m1 0h2m4 0h1m1 0h5m12 0h5m2 0h2m3 0h3m1 0h1m2 0h2m10 0h2m2 0h5m2 0h1m3 0h2m1 0h2m15 0h2m1 0h2m13 0h3m4 0h2m11 0h1m16 0h3m15 0h2m9 0h1m9 0h2m28 0h3m-464 1h2m36 0h4m1 0h3m21 0h6m1 0h6m1 0h3m1 0h4m3 0h2m2 0h7m2 0h3m1 0h3m1 0h5m7 0h5m2 0h6m3 0h2m3 0h1m4 0h3m3 0h3m3 0h4m2 0h3m6 0h2m4 0h1m2 0h3m18 0h3m6 0h2m7 0h4m5 0h2m2 0h6m6 0h5m16 0h1m4 0h4m5 0h3m8 0h1m3 0h4m1 0h2m1 0h2m1 0h3m2 0h2m4 0h2m14 0h3m14 0h4m2 0h3m9 0h3m9 0h1m6 0h1m16 0h2m50 0h1m-463 1h2m25 0h2m11 0h2m6 0h2m12 0h1m3 0h7m2 0h2m4 0h5m7 0h3m1 0h6m1 0h5m1 0h2m1 0h4m8 0h6m1 0h2m1 0h3m3 0h2m3 0h2m4 0h3m8 0h3m3 0h3m5 0h3m4 0h3m1 0h1m16 0h1m1 0h4m6 0h2m9 0h2m5 0h2m2 0h6m7 0h1m25 0h3m6 0h1m8 0h2m3 0h4m2 0h1m4 0h2m8 0h6m19 0h1m8 0h5m5 0h1m8 0h5m5 0h3m79 0h2m-443 1h4m18 0h2m11 0h3m1 0h3m2 0h4m1 0h2m2 0h7m1 0h1m1 0h3m1 0h2m4 0h2m2 0h3m1 0h2m1 0h2m2 0h3m15 0h1m3 0h2m8 0h2m8 0h2m2 0h1m2 0h3m12 0h3m3 0h2m18 0h5m8 0h2m16 0h2m3 0h5m34 0h4m3 0h2m8 0h4m2 0h3m1 0h2m5 0h1m8 0h5m1 0h1m2 0h2m13 0h2m11 0h1m5 0h3m10 0h3m5 0h1m80 0h2m-442 1h3m19 0h1m11 0h2m3 0h1m3 0h3m2 0h6m1 0h2m2 0h3m1 0h5m6 0h3m3 0h10m1 0h3m10 0h3m2 0h2m8 0h2m8 0h6m7 0h2m8 0h2m11 0h2m1 0h2m1 0h2m1 0h8m14 0h1m1 0h2m8 0h3m4 0h1m9 0h2m26 0h3m3 0h2m10 0h3m5 0h2m4 0h3m3 0h2m2 0h2m2 0h4m1 0h4m12 0h1m15 0h1m3 0h2m5 0h2m12 0h2m-336 1h2m4 0h3m1 0h2m8 0h5m3 0h6m3 0h4m6 0h4m3 0h1m2 0h6m2 0h1m12 0h1m6 0h2m2 0h1m2 0h3m2 0h1m3 0h2m1 0h3m8 0h3m8 0h5m2 0h2m3 0h2m1 0h5m1 0h9m13 0h4m9 0h1m15 0h3m6 0h2m17 0h2m22 0h3m6 0h1m4 0h2m1 0h2m5 0h1m3 0h3m27 0h3m2 0h2m5 0h2m12 0h2m10 0h1m37 0h1m-396 1h2m9 0h4m3 0h1m2 0h2m3 0h2m3 0h5m3 0h3m1 0h1m5 0h4m5 0h1m1 0h2m1 0h9m1 0h1m6 0h2m12 0h4m1 0h6m2 0h3m1 0h3m13 0h3m7 0h5m1 0h4m7 0h2m5 0h1m1 0h2m8 0h2m5 0h4m2 0h3m12 0h1m7 0h2m6 0h3m13 0h1m5 0h1m10 0h3m8 0h3m14 0h2m9 0h5m7 0h2m17 0h1m4 0h2m23 0h2m4 0h3m35 0h3m-397 1h2m1 0h1m8 0h3m7 0h1m3 0h2m1 0h2m1 0h2m1 0h2m1 0h4m8 0h5m3 0h2m4 0h8m1 0h2m5 0h3m6 0h1m4 0h5m1 0h1m1 0h2m4 0h1m2 0h5m11 0h3m10 0h4m1 0h2m1 0h3m11 0h3m8 0h2m12 0h2m12 0h2m8 0h2m4 0h2m14 0h2m2 0h4m9 0h3m36 0h2m1 0h2m7 0h2m1 0h1m4 0h3m13 0h2m23 0h2m5 0h1m37 0h1m-393 1h2m9 0h2m2 0h2m5 0h1m3 0h2m1 0h2m1 0h6m2 0h1m8 0h3m2 0h3m3 0h1m6 0h5m5 0h8m1 0h2m1 0h10m11 0h3m1 0h3m22 0h2m4 0h2m11 0h4m9 0h1m2 0h2m15 0h1m3 0h2m1 0h1m9 0h3m3 0h2m11 0h1m1 0h4m1 0h3m11 0h1m20 0h1m14 0h2m14 0h2m4 0h2m-308 1h3m8 0h2m2 0h2m4 0h5m3 0h2m2 0h5m1 0h3m2 0h1m1 0h2m1 0h3m2 0h3m2 0h3m1 0h1m3 0h5m9 0h7m1 0h2m1 0h2m1 0h1m1 0h2m4 0h1m10 0h4m27 0h2m4 0h1m2 0h2m2 0h2m3 0h2m9 0h2m14 0h2m3 0h2m12 0h2m15 0h6m13 0h1m5 0h2m15 0h3m13 0h2m15 0h1m49 0h3m-377 1h2m22 0h4m5 0h4m8 0h4m3 0h2m4 0h3m2 0h1m2 0h5m7 0h2m3 0h1m1 0h2m3 0h3m6 0h2m2 0h11m1 0h2m5 0h1m2 0h4m10 0h2m15 0h1m16 0h10m3 0h2m26 0h1m3 0h2m30 0h1m1 0h1m14 0h2m2 0h1m2 0h2m16 0h1m22 0h2m57 0h3m-390 1h3m9 0h3m20 0h1m2 0h3m4 0h2m1 0h1m1 0h2m5 0h3m2 0h2m2 0h1m2 0h7m4 0h1m3 0h2m5 0h1m7 0h1m8 0h6m3 0h3m2 0h5m7 0h3m2 0h3m26 0h3m16 0h2m1 0h3m1 0h1m7 0h2m10 0h2m43 0h3m18 0h2m1 0h3m7 0h1m34 0h2m3 0h3m-335 1h2m9 0h2m17 0h2m1 0h2m3 0h2m4 0h2m2 0h4m2 0h9m1 0h2m2 0h7m3 0h2m3 0h2m6 0h2m13 0h3m2 0h1m5 0h2m4 0h2m2 0h2m3 0h3m33 0h1m7 0h2m11 0h2m10 0h3m8 0h3m43 0h3m22 0h1m7 0h2m40 0h1m14 0h2m-322 1h7m3 0h2m2 0h4m2 0h2m1 0h2m1 0h3m1 0h2m2 0h4m2 0h5m5 0h2m2 0h2m1 0h2m4 0h2m1 0h2m6 0h1m3 0h2m4 0h2m3 0h2m8 0h2m20 0h2m25 0h2m113 0h2m55 0h2m-322 1h6m8 0h4m5 0h3m8 0h2m7 0h5m6 0h2m1 0h4m4 0h6m2 0h3m2 0h1m5 0h2m2 0h2m11 0h1m8 0h1m10 0h2m68 0h2m1 0h1m12 0h2m-227 1h2m18 0h3m3 0h1m7 0h1m7 0h2m4 0h2m1 0h3m1 0h2m5 0h4m1 0h4m1 0h2m3 0h2m5 0h5m2 0h3m1 0h2m2 0h5m2 0h2m10 0h3m2 0h1m2 0h4m12 0h2m1 0h1m63 0h2m1 0h2m11 0h2m26 0h2m-256 1h3m10 0h2m6 0h3m2 0h3m1 0h2m10 0h2m3 0h12m7 0h6m1 0h5m1 0h2m4 0h4m4 0h2m1 0h2m2 0h4m1 0h2m11 0h3m2 0h7m13 0h6m64 0h1m22 0h1m17 0h2m-255 1h1m11 0h2m4 0h2m6 0h1m1 0h3m9 0h3m3 0h6m1 0h9m3 0h5m5 0h2m1 0h3m4 0h2m10 0h2m2 0h5m11 0h3m3 0h1m1 0h3m17 0h3m34 0h2m51 0h2m43 0h3m-265 1h2m1 0h3m4 0h2m7 0h2m2 0h2m2 0h6m2 0h2m2 0h1m1 0h11m4 0h3m1 0h5m14 0h3m4 0h1m13 0h4m1 0h4m6 0h3m1 0h2m35 0h3m5 0h2m51 0h2m44 0h2m17 0h2m-280 1h2m6 0h5m2 0h2m6 0h3m2 0h1m4 0h2m3 0h2m1 0h2m5 0h2m3 0h1m5 0h2m14 0h3m20 0h2m1 0h2m9 0h2m1 0h2m29 0h2m4 0h3m4 0h2m48 0h1m68 0h2m-298 1h1m5 0h3m9 0h2m6 0h5m11 0h1m3 0h2m3 0h2m2 0h3m7 0h3m4 0h2m17 0h2m1 0h1m18 0h1m1 0h2m2 0h1m44 0h2m11 0h2m4 0h3m40 0h3m-230 1h3m4 0h2m16 0h1m16 0h2m3 0h2m4 0h2m2 0h1m8 0h3m4 0h2m12 0h2m3 0h3m18 0h6m6 0h1m39 0h2m12 0h1m4 0h3m4 0h1m36 0h1m74 0h2m-304 1h1m22 0h3m7 0h1m7 0h2m8 0h3m1 0h1m3 0h3m3 0h4m7 0h1m7 0h5m3 0h2m6 0h2m11 0h3m7 0h3m4 0h2m15 0h1m42 0h1m59 0h2m50 0h2m-280 1h2m6 0h3m3 0h1m12 0h6m2 0h4m4 0h1m7 0h2m3 0h3m1 0h2m2 0h4m8 0h2m3 0h2m7 0h2m8 0h1m5 0h2m15 0h2m10 0h2m89 0h2m63 0h2m-313 1h2m18 0h2m7 0h3m1 0h3m4 0h2m9 0h1m2 0h1m2 0h3m1 0h1m5 0h2m3 0h1m2 0h4m4 0h5m9 0h1m3 0h2m7 0h2m15 0h2m6 0h2m6 0h2m10 0h2m38 0h1m45 0h2m66 0h4m-313 1h2m27 0h2m3 0h1m5 0h2m5 0h1m4 0h4m1 0h2m1 0h3m4 0h4m3 0h3m7 0h3m23 0h2m15 0h2m6 0h3m54 0h5m44 0h2m66 0h2m-273 1h4m4 0h3m3 0h3m2 0h3m1 0h1m6 0h3m3 0h2m8 0h3m20 0h2m18 0h1m64 0h2m1 0h1m-167 1h2m6 0h5m4 0h2m36 0h1m22 0h3m21 0h2m10 0h1m21 0h2m111 0h1m4 0h3m-258 1h3m7 0h1m7 0h2m6 0h4m13 0h3m9 0h3m37 0h2m2 0h1m3 0h2m9 0h3m20 0h2m110 0h3m3 0h3m-298 1h1m33 0h2m4 0h3m11 0h1m11 0h4m13 0h4m8 0h2m5 0h2m31 0h2m1 0h3m14 0h1m21 0h2m100 0h2m-282 1h3m32 0h2m4 0h2m11 0h3m12 0h3m7 0h2m3 0h3m9 0h2m5 0h2m17 0h2m5 0h2m2 0h3m4 0h1m37 0h3m99 0h2m-281 1h1m26 0h1m5 0h4m17 0h1m13 0h2m5 0h2m1 0h2m2 0h2m10 0h3m5 0h1m17 0h6m1 0h3m2 0h3m42 0h3m-166 1h2m10 0h3m4 0h4m20 0h2m15 0h3m2 0h1m3 0h1m36 0h2m2 0h5m150 0h1m-294 1h2m26 0h2m11 0h2m1 0h3m2 0h2m7 0h3m1 0h1m8 0h2m11 0h2m1 0h2m3 0h2m2 0h2m6 0h1m29 0h2m5 0h1m150 0h3m-295 1h2m39 0h2m2 0h2m2 0h4m6 0h1m2 0h2m12 0h2m6 0h2m2 0h1m3 0h3m1 0h2m5 0h3m29 0h1m58 0h1m68 0h3m27 0h1m92 0h2m-388 1h2m48 0h2m6 0h2m2 0h2m12 0h2m12 0h2m1 0h2m2 0h1m95 0h2m69 0h2m120 0h2m-340 1h2m1 0h2m5 0h2m18 0h2m2 0h2m3 0h2m1 0h2m101 0h2m-147 1h2m1 0h2m7 0h2m16 0h3m1 0h2m3 0h2m1 0h4m68 0h2m122 0h3m-245 1h1m6 0h3m6 0h3m24 0h2m2 0h3m43 0h1m24 0h2m122 0h2m-272 1h2m21 0h2m2 0h2m6 0h4m6 0h2m74 0h2m7 0h2m14 0h1m71 0h2m-221 1h3m19 0h1m1 0h2m2 0h2m8 0h2m13 0h2m15 0h2m36 0h1m6 0h2m5 0h2m7 0h2m86 0h2m-200 1h3m29 0h2m15 0h2m20 0h1m11 0h2m1 0h2m6 0h3m186 0h1m-283 1h1m7 0h2m8 0h1m6 0h2m6 0h2m14 0h1m7 0h2m10 0h3m10 0h2m1 0h2m136 0h1m57 0h2m-308 1h1m19 0h2m11 0h2m7 0h5m3 0h2m6 0h2m22 0h2m11 0h1m12 0h1m138 0h3m7 0h2m47 0h2m-308 1h2m18 0h2m21 0h1m1 0h2m9 0h2m10 0h1m6 0h2m37 0h2m111 0h1m20 0h1m7 0h3m-259 1h1m46 0h2m7 0h5m6 0h3m4 0h3m19 0h1m17 0h2m88 0h2m20 0h3m-190 1h2m6 0h4m8 0h2m7 0h1m3 0h1m1 0h2m19 0h3m59 0h2m45 0h2m21 0h1m-189 1h2m8 0h2m20 0h2m23 0h1m60 0h2m-109 1h1m20 0h2m189 0h2m-229 1h2m36 0h2m20 0h2m67 0h2m96 0h3m-230 1h2m20 0h2m14 0h2m20 0h2m7 0h2m58 0h2m-120 1h1m10 0h3m19 0h2m15 0h1m7 0h2m-61 1h2m9 0h3m20 0h2m15 0h2m14 0h1m47 0h1m-115 1h1m9 0h2m38 0h1m1 0h1m12 0h3m45 0h3m-152 1h2m85 0h3m12 0h1m47 0h1m96 0h2m13 0h2m-314 1h2m48 0h2m32 0h2m27 0h3m22 0h1m9 0h2m147 0h2m13 0h2m-314 1h2m49 0h1m31 0h3m27 0h3m32 0h3m128 0h2m31 0h2m-232 1h3m61 0h1m132 0h2m-184 1h2m47 0h2m-51 1h3m4 0h2m40 0h3m18 0h2m-101 1h2m11 0h2m15 0h2m4 0h2m41 0h2m18 0h2m60 0h2m-163 1h2m11 0h2m47 0h1m17 0h1m80 0h2m32 0h1m-183 1h1m47 0h3m34 0h1m95 0h3m-168 1h1m19 0h2m11 0h2m33 0h3m95 0h1m-204 1h2m34 0h5m16 0h2m47 0h1m117 0h2m-235 1h1m8 0h2m35 0h1m1 0h2m183 0h2m-236 1h3m46 0h1m46 0h2m4 0h2m37 0h2m-142 1h1m55 0h1m38 0h2m4 0h2m15 0h2m15 0h2m3 0h2m-125 1h2m36 0h3m60 0h2m15 0h2m88 0h2m-252 1h3m8 0h2m29 0h2m3 0h2m201 0h2m-251 1h1m9 0h2m30 0h2m2 0h2m-6 1h2m-24 1h2m-2 1h2m53 1h2m62 0h2m-66 1h2m62 0h2m-90 1h2m-2 1h2m163 1h2m-2 1h2m-213 3h3m59 0h2m-64 1h3m59 0h2m-1 2h2m-35 1h2m31 0h2m-35 1h2m15 5h2m-2 1h2m73 0h1m-1 1h2m-120 1h2m34 0h2m80 0h1m-119 1h2m34 0h2m-36 22h2m-2 1h2m70 5h3m-64 1h2m59 0h3m-64 1h2m26 4h3m-2 1h1m22 4h1m-2 1h3m10 1h2m-2 1h2m-87 12h2m-2 1h2m17 4h2m-2 1h2m6 4h3m-2 1h1m-24 10h1m12 0h2m-16 1h3m11 0h2m-15 1h1m69 4h2m-2 1h2"/><path stroke="#00f" d="M161 78.5h3m98 0h1m-101 1h1m98 0h3m-2 1h1m-55 2h2m188 0h1m-191 1h2m35 0h1m152 0h2m-156 1h3m7 0h1m143 0h1m-220 1h2m64 0h1m7 0h3m-77 1h2m73 0h1m99 0h2m-85 1h2m59 0h3m18 0h3m-85 1h2m59 0h2m-63 1h1m20 1h2m65 0h2m-177 1h2m106 0h2m27 0h2m35 0h3m-177 1h2m105 0h2m7 0h2m19 0h2m35 0h2m-197 1h2m84 0h1m40 0h3m7 0h2m24 0h2m28 0h2m-195 1h2m15 0h2m66 0h3m5 0h2m31 0h2m34 0h3m27 0h3m-179 1h3m31 0h1m35 0h1m6 0h2m2 0h2m27 0h2m64 0h2m-180 1h4m31 0h3m45 0h2m44 0h1m48 0h1m-179 1h2m30 0h2m2 0h1m92 0h2m-99 1h2m31 0h1m63 0h2m-102 1h2m33 0h3m-38 1h2m34 0h1m82 0h2m-148 1h2m25 0h2m117 0h2m-148 1h2m74 0h1m-93 1h2m16 0h2m46 0h2m23 0h2m103 0h2m-198 1h2m16 0h2m46 0h2m11 0h2m10 0h2m103 0h2m-142 1h1m10 0h1m11 0h2m47 0h1m12 0h2m9 0h2m-99 1h3m20 0h3m14 0h2m30 0h3m11 0h2m9 0h2m-98 1h1m22 0h1m15 0h2m31 0h1m-126 1h2m116 0h1m58 0h1m-178 1h2m31 0h2m82 0h3m14 0h2m40 0h2m-145 1h2m7 0h1m41 0h2m32 0h1m15 0h2m40 0h2m-137 1h3m40 0h2m93 0h2m-199 1h2m58 0h1m136 0h2m-199 1h2m15 1h2m14 0h2m39 0h2m40 0h2m-101 1h2m14 0h2m39 0h2m40 0h2m37 0h2m-45 1h1m42 0h2m-46 1h3m30 0h2m9 0h2m153 0h2m-220 1h2m18 0h1m1 0h2m28 0h2m9 0h2m61 0h2m90 0h2m-284 1h2m62 0h3m19 0h2m102 0h2m39 0h2m-233 1h2m58 0h2m169 0h2m-173 1h2m169 0h1m-176 1h2m66 0h2m90 0h2m-189 1h1m26 0h2m11 0h2m4 0h1m48 0h2m90 0h2m-190 1h3m12 0h2m24 0h2m3 0h2m7 0h2m12 0h1m26 0h3m-98 1h1m13 0h2m9 0h2m13 0h2m3 0h2m7 0h2m12 0h2m26 0h1m-72 1h2m9 0h3m20 0h1m8 0h2m-58 1h2m22 0h3m19 0h3m-77 1h2m26 0h2m45 0h1m24 0h1m-101 1h2m27 0h1m69 0h2m1 0h2m21 0h2m-38 1h1m9 0h2m1 0h2m21 0h3m-40 1h3m48 0h2m-52 1h1m49 0h2m6 1h1m-125 1h1m90 0h2m30 0h2m18 0h1m-144 1h2m44 0h3m42 0h2m31 0h1m17 0h2m-154 1h1m10 0h2m11 0h1m30 0h4m17 0h1m9 0h2m64 0h2m-155 1h3m1 0h1m6 0h3m10 0h2m50 0h3m8 0h2m-88 1h1m1 0h3m5 0h3m11 0h1m30 0h2m3 0h2m14 0h1m9 0h3m56 0h3m-145 1h1m51 0h2m2 0h3m24 0h2m58 0h2m-126 1h2m35 0h2m102 0h1m-193 1h1m50 0h2m35 0h1m4 0h2m96 0h3m-195 1h3m62 0h2m4 0h1m22 0h2m9 0h3m14 0h2m33 0h2m34 0h1m-193 1h1m54 0h2m7 0h2m4 0h2m11 0h2m9 0h1m9 0h3m13 0h3m33 0h2m-103 1h3m6 0h1m5 0h2m10 0h3m-72 1h2m29 0h3m40 0h2m139 0h2m-217 1h2m30 0h2m40 0h4m40 0h2m4 0h2m76 0h2m11 0h2m55 0h2m-308 1h2m32 0h2m15 0h3m54 0h4m22 0h3m15 0h2m4 0h2m76 0h2m68 0h2m-308 1h2m32 0h2m15 0h2m40 0h3m1 0h2m1 0h2m4 0h2m26 0h2m10 0h1m20 0h2m54 0h2m-191 1h2m56 0h4m1 0h2m1 0h3m3 0h3m7 0h1m28 0h3m15 0h2m2 0h2m54 0h2m57 0h1m-207 1h1m16 0h1m6 0h3m12 0h4m27 0h1m7 0h2m7 0h2m12 0h1m104 0h2m-209 1h3m38 0h3m11 0h2m22 0h2m20 0h3m6 0h2m70 0h1m24 0h1m-240 1h1m32 0h1m1 0h2m19 0h3m28 0h2m10 0h2m10 0h2m12 0h2m15 0h2m69 0h3m-217 1h3m33 0h2m20 0h1m30 0h1m10 0h4m22 0h2m19 0h2m3 0h3m22 0h1m37 0h1m-215 1h1m46 0h2m28 0h2m9 0h1m12 0h2m22 0h2m18 0h3m4 0h2m21 0h3m-201 1h3m4 0h2m6 0h2m53 0h2m8 0h2m18 0h2m8 0h2m-112 1h3m4 0h2m6 0h2m63 0h2m15 0h2m12 0h1m32 0h1m43 0h2m-93 1h2m1 0h1m1 0h3m34 0h2m2 0h3m42 0h2m-180 1h2m87 0h2m2 0h2m34 0h2m3 0h2m29 0h2m-167 1h2m87 0h2m10 0h2m26 0h2m3 0h4m27 0h2m-171 1h2m103 0h2m31 0h2m1 0h2m-143 1h2m29 0h2m30 0h2m76 0h1m8 0h2m31 0h3m-179 1h2m12 0h2m1 0h2m5 0h2m30 0h2m49 0h1m35 0h2m31 0h4m50 0h2m-232 1h2m11 0h3m1 0h2m87 0h3m15 0h1m53 0h2m23 0h2m25 0h2m-219 1h3m91 0h1m15 0h2m26 0h3m10 0h1m1 0h2m35 0h2m25 0h2m-226 1h1m100 0h2m11 0h2m2 0h1m19 0h1m6 0h2m10 0h5m-162 1h2m27 0h2m21 0h2m30 0h2m15 0h3m10 0h2m21 0h2m19 0h1m-159 1h2m17 0h1m9 0h2m21 0h3m29 0h2m16 0h2m2 0h2m6 0h2m2 0h2m17 0h2m12 0h2m-152 1h2m5 0h2m8 0h2m2 0h2m5 0h2m12 0h2m8 0h1m19 0h2m31 0h2m10 0h3m16 0h2m12 0h2m-203 1h1m50 0h2m5 0h2m9 0h1m2 0h2m5 0h1m12 0h3m28 0h2m44 0h3m11 0h2m2 0h2m87 0h2m17 0h2m-298 1h3m47 0h3m40 0h2m4 0h2m11 0h2m70 0h2m27 0h2m6 0h2m54 0h2m17 0h2m-297 1h1m49 0h2m40 0h2m4 0h2m11 0h2m1 0h1m63 0h3m31 0h2m6 0h2m-130 1h2m19 0h3m7 0h2m10 0h2m34 0h2m5 0h3m39 0h1m5 0h1m-130 1h2m14 0h2m8 0h2m10 0h2m2 0h2m30 0h2m1 0h1m50 0h3m2 0h2m7 0h1m-194 1h3m29 0h1m18 0h3m39 0h2m3 0h2m27 0h3m7 0h2m41 0h1m3 0h2m6 0h3m-195 1h3m15 0h2m11 0h3m54 0h2m8 0h2m11 0h2m15 0h1m8 0h2m53 0h2m11 0h2m-189 1h2m12 0h1m55 0h2m8 0h1m12 0h2m12 0h1m35 0h2m29 0h2m11 0h2m-198 1h2m38 0h2m9 0h2m35 0h3m11 0h2m2 0h2m3 0h1m3 0h3m24 0h1m9 0h2m51 0h2m-241 1h2m32 0h2m20 0h2m16 0h2m3 0h2m4 0h2m21 0h3m12 0h1m16 0h2m3 0h4m1 0h1m23 0h3m62 0h2m-241 1h2m44 0h2m8 0h2m21 0h2m28 0h2m34 0h4m6 0h2m13 0h2m2 0h1m61 0h2m-192 1h2m5 0h2m24 0h1m15 0h1m49 0h1m9 0h2m2 0h1m10 0h2m1 0h2m61 0h2m-221 1h1m28 0h1m6 0h2m39 0h3m41 0h3m3 0h3m11 0h3m5 0h2m3 0h1m2 0h1m-143 1h2m39 0h1m16 0h1m4 0h1m43 0h2m4 0h1m12 0h2m6 0h2m9 0h2m2 0h1m10 0h2m2 0h1m-166 1h3m38 0h3m13 0h4m85 0h2m2 0h1m10 0h2m1 0h2m4 0h1m9 0h3m12 0h2m8 0h2m-165 1h1m13 0h4m15 0h1m37 0h2m35 0h1m13 0h2m2 0h4m8 0h3m12 0h2m8 0h2m-221 1h2m19 0h2m48 0h1m14 0h5m36 0h2m3 0h2m8 0h2m9 0h2m28 0h2m8 0h3m-210 1h3m11 0h2m19 0h2m63 0h2m24 0h2m18 0h2m8 0h2m9 0h2m39 0h1m9 0h2m61 0h2m-282 1h1m35 0h1m17 0h2m1 0h2m28 0h1m12 0h2m4 0h1m17 0h3m18 0h2m8 0h2m60 0h2m61 0h2m-247 1h2m17 0h2m1 0h2m25 0h5m7 0h2m2 0h2m3 0h3m39 0h2m7 0h1m-121 1h1m4 0h2m7 0h2m2 0h2m29 0h1m1 0h2m7 0h2m8 0h1m8 0h2m1 0h4m25 0h2m30 0h1m-178 1h2m37 0h2m7 0h2m45 0h2m16 0h2m1 0h4m16 0h2m10 0h3m25 0h3m33 0h2m-214 1h2m93 0h2m16 0h2m2 0h3m12 0h2m2 0h2m10 0h2m5 0h2m20 0h1m34 0h2m-185 1h1m56 0h2m3 0h1m3 0h1m13 0h2m2 0h2m2 0h2m10 0h2m1 0h2m7 0h1m13 0h4m-131 1h3m25 0h2m28 0h2m2 0h3m16 0h2m18 0h2m9 0h3m14 0h2m25 0h2m2 0h2m69 0h2m-232 1h1m23 0h1m2 0h2m33 0h1m13 0h1m17 0h2m4 0h2m10 0h4m39 0h2m2 0h2m69 0h2m-208 1h2m5 0h2m61 0h2m18 0h2m39 0h2m2 0h2m22 0h1m6 0h1m20 0h2m-189 1h1m6 0h2m13 0h2m45 0h4m17 0h2m25 0h2m39 0h3m4 0h3m19 0h2m4 0h2m-174 1h3m13 0h2m29 0h4m16 0h4m10 0h2m2 0h2m9 0h2m40 0h1m33 0h2m-173 1h2m13 0h2m2 0h2m12 0h5m9 0h1m17 0h3m11 0h3m2 0h2m9 0h2m49 0h2m-186 1h1m24 0h2m14 0h2m11 0h2m1 0h2m12 0h2m1 0h4m11 0h2m37 0h1m19 0h3m10 0h1m22 0h2m-202 1h1m14 0h3m23 0h2m6 0h2m6 0h2m3 0h2m6 0h2m15 0h2m2 0h3m11 0h2m9 0h1m14 0h2m7 0h1m2 0h2m19 0h3m9 0h2m-179 1h3m14 0h3m30 0h2m11 0h2m5 0h3m20 0h1m22 0h3m17 0h2m2 0h3m1 0h2m9 0h1m15 0h2m4 0h2m21 0h2m19 0h2m-222 1h1m16 0h2m34 0h2m7 0h3m4 0h3m23 0h1m20 0h1m17 0h3m3 0h2m11 0h3m14 0h2m27 0h2m19 0h2m22 0h2m-199 1h2m4 0h2m2 0h2m4 0h2m7 0h1m8 0h2m11 0h2m1 0h1m1 0h2m8 0h2m6 0h1m20 0h5m28 0h1m26 0h2m2 0h2m40 0h2m-233 1h4m14 0h2m14 0h6m4 0h2m12 0h3m5 0h1m1 0h2m11 0h7m8 0h2m5 0h3m19 0h4m56 0h2m2 0h2m-191 1h2m16 0h2m15 0h4m6 0h1m19 0h3m4 0h3m9 0h1m11 0h2m6 0h2m8 0h2m49 0h3m-101 1h2m3 0h4m16 0h1m1 0h2m8 0h2m8 0h2m17 0h2m12 0h2m8 0h1m7 0h2m1 0h2m32 0h1m-146 1h2m3 0h2m3 0h1m3 0h2m1 0h1m16 0h5m2 0h2m14 0h2m17 0h2m12 0h2m4 0h2m2 0h2m9 0h2m20 0h2m9 0h3m-230 1h2m74 0h2m5 0h2m3 0h2m7 0h2m19 0h1m1 0h1m3 0h2m3 0h3m8 0h2m16 0h1m2 0h2m10 0h2m4 0h2m2 0h1m10 0h1m21 0h2m10 0h1m-229 1h2m74 0h2m10 0h2m39 0h3m1 0h2m23 0h5m6 0h1m32 0h2m-144 1h3m8 0h1m16 0h2m37 0h1m5 0h3m17 0h2m3 0h4m6 0h3m31 0h2m24 0h2m-171 1h3m8 0h3m27 0h2m14 0h2m8 0h3m5 0h2m4 0h2m11 0h2m14 0h1m18 0h2m38 0h2m-222 1h2m12 0h2m36 0h1m5 0h1m4 0h1m12 0h3m7 0h4m2 0h2m3 0h2m9 0h2m9 0h1m6 0h5m1 0h2m11 0h1m5 0h2m27 0h2m-182 1h2m9 0h2m1 0h2m41 0h3m4 0h2m10 0h6m4 0h3m4 0h2m2 0h2m14 0h1m11 0h1m2 0h4m9 0h2m1 0h2m5 0h3m6 0h2m-161 1h1m9 0h2m33 0h1m11 0h3m2 0h3m12 0h4m11 0h3m10 0h2m4 0h3m3 0h2m5 0h2m3 0h2m8 0h3m2 0h1m6 0h2m6 0h2m-134 1h3m14 0h3m11 0h2m2 0h5m3 0h2m11 0h2m2 0h1m17 0h2m5 0h1m4 0h2m5 0h2m4 0h2m7 0h2m6 0h1m3 0h2m6 0h5m62 0h2m-222 1h1m20 0h2m15 0h4m15 0h4m3 0h2m4 0h2m5 0h2m1 0h3m27 0h1m7 0h3m1 0h4m14 0h8m1 0h1m5 0h2m63 0h2m-206 1h2m8 0h2m12 0h1m18 0h1m1 0h2m7 0h2m9 0h2m4 0h2m21 0h2m1 0h2m3 0h2m2 0h2m3 0h2m2 0h2m8 0h1m1 0h7m14 0h3m32 0h2m-201 1h1m14 0h3m8 0h2m2 0h2m4 0h2m23 0h2m18 0h2m4 0h2m4 0h2m15 0h5m11 0h1m4 0h2m12 0h2m2 0h1m13 0h4m32 0h2m-185 1h1m9 0h1m3 0h2m4 0h2m22 0h2m3 0h2m20 0h1m5 0h2m10 0h2m1 0h1m2 0h5m10 0h1m4 0h2m5 0h2m5 0h2m6 0h2m9 0h1m17 0h2m71 0h2m-220 1h1m22 0h2m2 0h3m5 0h2m9 0h2m20 0h5m1 0h2m1 0h2m20 0h4m3 0h3m4 0h2m1 0h2m1 0h4m6 0h2m14 0h5m68 0h2m-219 1h2m5 0h2m13 0h2m2 0h1m4 0h2m1 0h2m9 0h2m23 0h1m1 0h1m4 0h3m18 0h4m3 0h3m1 0h2m1 0h2m4 0h4m6 0h2m15 0h1m1 0h2m-149 1h3m4 0h2m3 0h2m10 0h4m3 0h2m21 0h3m14 0h5m1 0h4m7 0h2m6 0h6m7 0h2m3 0h6m11 0h2m73 0h2m42 0h2m-240 1h2m9 0h2m1 0h1m27 0h3m15 0h1m1 0h3m1 0h3m7 0h2m6 0h2m17 0h5m11 0h2m9 0h1m63 0h2m42 0h2m60 0h2m-317 1h2m18 0h2m3 0h3m7 0h2m11 0h1m6 0h3m11 0h2m10 0h3m7 0h2m6 0h1m19 0h3m9 0h1m5 0h2m6 0h2m64 0h2m102 0h2m-316 1h2m17 0h2m2 0h3m4 0h1m3 0h2m3 0h3m4 0h3m5 0h3m5 0h2m1 0h2m1 0h2m3 0h5m2 0h2m1 0h2m6 0h1m5 0h3m10 0h3m1 0h2m2 0h3m2 0h2m1 0h4m6 0h2m6 0h1m65 0h2m93 0h2m-311 1h1m3 0h1m11 0h1m11 0h1m3 0h3m8 0h3m5 0h6m2 0h2m5 0h2m1 0h2m6 0h7m3 0h3m4 0h1m2 0h4m13 0h6m1 0h2m3 0h3m1 0h2m21 0h1m43 0h2m15 0h2m26 0h2m65 0h2m-312 1h3m26 0h2m2 0h4m7 0h2m1 0h2m3 0h6m1 0h5m6 0h2m1 0h2m7 0h3m7 0h1m1 0h2m2 0h5m2 0h2m8 0h3m1 0h1m2 0h2m3 0h2m25 0h2m42 0h2m43 0h2m3 0h3m59 0h2m-321 1h2m8 0h1m13 0h2m12 0h4m1 0h3m6 0h2m2 0h2m7 0h2m2 0h4m9 0h5m5 0h2m6 0h5m2 0h1m6 0h2m4 0h2m2 0h2m9 0h2m26 0h2m2 0h2m10 0h3m18 0h1m56 0h3m-260 1h2m22 0h2m14 0h2m6 0h2m2 0h2m9 0h4m13 0h2m2 0h2m6 0h1m8 0h2m6 0h5m5 0h3m2 0h2m9 0h2m10 0h2m1 0h2m15 0h2m9 0h4m17 0h3m-183 1h1m5 0h1m22 0h4m2 0h2m13 0h2m1 0h4m3 0h3m17 0h5m4 0h3m1 0h2m5 0h2m3 0h3m1 0h1m18 0h2m1 0h2m17 0h1m9 0h1m20 0h1m-183 1h3m18 0h2m8 0h3m2 0h2m13 0h2m1 0h6m1 0h2m10 0h2m6 0h2m1 0h1m1 0h2m1 0h3m15 0h5m8 0h1m29 0h3m-152 1h1m4 0h1m13 0h3m7 0h3m3 0h1m10 0h2m2 0h1m3 0h5m1 0h2m10 0h2m2 0h1m4 0h1m3 0h2m2 0h2m15 0h4m2 0h2m5 0h2m11 0h2m16 0h1m2 0h1m22 0h2m-199 1h3m22 0h3m12 0h2m7 0h2m4 0h4m1 0h2m1 0h2m2 0h2m7 0h3m17 0h4m1 0h3m6 0h2m21 0h2m5 0h4m2 0h1m6 0h2m14 0h2m2 0h1m23 0h2m13 0h3m-215 1h4m22 0h1m21 0h3m2 0h6m1 0h2m1 0h2m6 0h2m3 0h2m3 0h2m2 0h1m11 0h3m1 0h3m38 0h2m1 0h3m6 0h1m14 0h2m3 0h1m6 0h2m15 0h3m1 0h2m8 0h3m-213 1h1m37 0h1m3 0h2m2 0h3m2 0h3m9 0h4m2 0h2m3 0h2m2 0h3m2 0h3m9 0h6m5 0h2m2 0h2m15 0h1m8 0h2m6 0h2m8 0h2m2 0h2m19 0h2m16 0h2m1 0h2m31 0h1m-214 1h3m4 0h1m9 0h3m4 0h1m1 0h2m6 0h2m7 0h4m6 0h2m5 0h1m3 0h2m9 0h2m1 0h2m6 0h2m2 0h2m14 0h7m3 0h3m5 0h2m8 0h2m2 0h2m3 0h3m11 0h2m7 0h2m11 0h2m24 0h3m4 0h3m19 0h2m30 0h1m-267 1h2m4 0h3m8 0h2m8 0h1m6 0h2m6 0h2m9 0h2m4 0h3m2 0h4m3 0h2m5 0h2m3 0h2m9 0h2m3 0h1m7 0h1m1 0h4m4 0h1m17 0h2m6 0h3m11 0h2m7 0h3m10 0h2m24 0h3m5 0h1m20 0h2m29 0h3m-261 1h1m9 0h2m12 0h4m7 0h2m16 0h1m5 0h2m3 0h2m2 0h2m1 0h2m3 0h2m9 0h2m2 0h2m13 0h1m21 0h2m1 0h3m3 0h1m21 0h4m10 0h1m21 0h4m60 0h1m-253 1h2m12 0h2m1 0h3m3 0h2m2 0h3m2 0h2m3 0h2m8 0h2m4 0h1m7 0h2m9 0h4m9 0h1m2 0h2m8 0h3m12 0h2m6 0h2m2 0h1m10 0h2m16 0h1m8 0h1m6 0h3m15 0h4m31 0h2m-258 1h1m23 0h1m8 0h2m5 0h2m5 0h2m7 0h2m2 0h3m2 0h3m1 0h3m3 0h1m1 0h5m19 0h2m1 0h6m8 0h2m1 0h3m8 0h1m8 0h2m3 0h2m16 0h2m3 0h2m11 0h1m9 0h2m1 0h3m5 0h2m4 0h2m27 0h2m16 0h2m-257 1h1m21 0h2m4 0h4m7 0h2m5 0h1m1 0h2m7 0h2m1 0h3m4 0h3m3 0h7m18 0h1m1 0h2m1 0h3m1 0h4m6 0h2m2 0h1m11 0h2m5 0h2m7 0h2m12 0h2m3 0h2m10 0h3m8 0h2m2 0h1m12 0h2m27 0h2m84 0h2m-296 1h2m1 0h2m3 0h2m6 0h5m6 0h3m2 0h1m4 0h6m2 0h1m4 0h3m3 0h2m8 0h5m4 0h1m1 0h4m6 0h2m15 0h2m3 0h4m4 0h2m1 0h2m16 0h3m8 0h2m1 0h1m49 0h2m4 0h2m84 0h2m5 0h3m-301 1h2m3 0h3m1 0h3m1 0h3m5 0h2m1 0h2m11 0h3m1 0h2m5 0h3m1 0h3m2 0h3m4 0h4m5 0h7m4 0h4m17 0h6m3 0h2m9 0h2m1 0h2m4 0h4m9 0h2m23 0h2m25 0h2m4 0h2m12 0h1m78 0h3m-293 1h6m8 0h1m15 0h2m1 0h2m3 0h3m1 0h4m1 0h1m1 0h1m9 0h3m4 0h8m4 0h2m2 0h1m10 0h3m1 0h2m2 0h2m3 0h2m9 0h2m1 0h2m3 0h4m26 0h2m7 0h2m26 0h2m3 0h1m13 0h1m-233 1h3m21 0h2m21 0h1m2 0h3m2 0h10m2 0h2m1 0h1m2 0h6m1 0h6m3 0h2m2 0h3m3 0h2m2 0h2m9 0h3m5 0h2m3 0h2m2 0h1m15 0h3m26 0h3m34 0h2m9 0h2m11 0h1m32 0h1m-271 1h3m22 0h2m16 0h2m1 0h2m1 0h5m1 0h4m2 0h1m1 0h1m3 0h2m3 0h4m1 0h1m3 0h6m7 0h3m2 0h2m2 0h2m10 0h2m14 0h1m10 0h2m33 0h1m3 0h1m3 0h2m37 0h2m43 0h2m-251 1h2m3 0h2m16 0h2m2 0h1m1 0h1m1 0h3m8 0h2m9 0h1m1 0h8m6 0h4m1 0h2m5 0h5m9 0h3m1 0h3m9 0h5m5 0h3m21 0h2m13 0h2m3 0h2m82 0h2m-251 1h2m8 0h2m11 0h2m4 0h1m4 0h2m6 0h2m10 0h8m2 0h1m2 0h2m1 0h3m8 0h5m4 0h2m4 0h1m3 0h2m11 0h5m27 0h2m13 0h2m41 0h1m-203 1h1m8 0h2m5 0h2m4 0h2m9 0h2m7 0h1m10 0h3m3 0h2m2 0h3m1 0h1m2 0h2m10 0h2m4 0h3m7 0h4m7 0h1m4 0h3m30 0h1m41 0h2m10 0h3m-188 1h3m3 0h2m13 0h1m3 0h3m5 0h5m6 0h6m16 0h2m5 0h1m2 0h2m2 0h1m1 0h5m5 0h3m35 0h3m3 0h2m35 0h2m11 0h1m-185 1h2m16 0h3m3 0h1m5 0h5m4 0h2m2 0h2m10 0h3m11 0h1m1 0h2m1 0h2m1 0h4m1 0h3m6 0h1m37 0h1m4 0h2m36 0h1m-174 1h1m6 0h2m4 0h2m2 0h2m1 0h1m5 0h2m1 0h2m2 0h2m5 0h3m13 0h3m3 0h4m3 0h2m1 0h2m2 0h1m2 0h1m12 0h2m1 0h4m14 0h2m52 0h3m87 0h2m-279 1h1m9 0h3m7 0h2m5 0h4m1 0h3m2 0h2m4 0h2m1 0h2m1 0h3m7 0h1m1 0h1m5 0h3m7 0h1m1 0h1m3 0h2m1 0h2m2 0h1m1 0h2m1 0h3m1 0h1m7 0h1m1 0h1m2 0h7m14 0h2m16 0h5m31 0h3m87 0h2m-268 1h1m8 0h2m7 0h3m11 0h2m2 0h5m6 0h7m1 0h2m1 0h1m8 0h4m5 0h1m7 0h2m4 0h1m4 0h5m16 0h3m11 0h2m8 0h2m1 0h2m31 0h2m5 0h2m103 0h2m-271 1h3m12 0h7m4 0h1m2 0h1m1 0h3m1 0h6m7 0h5m11 0h5m1 0h3m4 0h1m1 0h1m7 0h1m9 0h3m5 0h1m5 0h2m43 0h2m5 0h3m103 0h2m-270 1h2m12 0h2m6 0h1m1 0h2m9 0h4m2 0h2m1 0h2m2 0h1m1 0h1m3 0h4m4 0h5m3 0h1m5 0h1m8 0h3m15 0h2m50 0h2m67 0h2m-226 1h2m20 0h2m1 0h1m10 0h4m2 0h1m1 0h3m8 0h1m4 0h6m8 0h4m8 0h1m137 0h2m-206 1h2m1 0h3m3 0h1m8 0h2m6 0h2m11 0h3m9 0h2m1 0h4m6 0h1m5 0h3m27 0h1m13 0h2m161 0h2m-283 1h1m1 0h1m2 0h1m1 0h1m2 0h1m1 0h3m8 0h1m6 0h2m11 0h3m9 0h2m5 0h2m3 0h5m2 0h5m5 0h2m22 0h2m1 0h3m4 0h2m33 0h1m8 0h1m118 0h2m-292 1h2m7 0h1m4 0h2m4 0h1m1 0h1m22 0h2m3 0h1m3 0h1m3 0h2m6 0h1m4 0h2m5 0h4m4 0h3m4 0h2m22 0h2m2 0h2m31 0h2m15 0h2m65 0h2m-240 1h2m12 0h2m3 0h3m8 0h1m1 0h1m7 0h2m3 0h3m1 0h3m1 0h7m3 0h6m9 0h3m47 0h2m5 0h2m15 0h4m15 0h1m66 0h2m-230 1h1m6 0h1m9 0h2m1 0h2m8 0h2m4 0h2m2 0h1m5 0h3m4 0h2m1 0h3m12 0h1m16 0h1m29 0h2m5 0h2m16 0h1m23 0h2m136 0h2m-290 1h2m13 0h2m1 0h1m17 0h2m10 0h2m4 0h2m1 0h2m81 0h1m9 0h3m110 0h2m23 0h2m-291 1h2m14 0h3m12 0h1m9 0h2m6 0h2m2 0h2m3 0h2m10 0h2m69 0h1m122 0h2m-253 1h1m6 0h1m3 0h1m6 0h2m8 0h2m5 0h2m3 0h2m8 0h3m4 0h2m-61 1h1m1 0h1m9 0h1m9 0h4m3 0h1m7 0h2m14 0h1m74 0h1m-130 1h2m1 0h1m15 0h2m29 0h2m76 0h3m-112 1h2m29 0h1m41 0h1m132 2h2m-216 1h2m66 0h1m118 0h1m26 0h2m-216 1h3m183 0h3m-2 1h1m-250 3h1m0 1h1m65 0h1m-58 8h1m164 3h1m-1 1h1m-62 2h1m0 1h1m0 2h2m-114 2h2m198 0h1m-201 1h2m165 0h1m-1 1h2m-145 2h1m149 2h1m-86 1h1m43 0h2m39 0h1m-89 1h1m-61 1h2m19 0h2m37 0h1m-61 1h2m1 0h2m16 0h1m23 0h1m-43 1h2m39 0h2m175 1h2m-148 2h2m127 0h2m-131 1h1m82 0h2m-2 1h2m-57 1h1m-29 1h2m24 0h3m-29 1h2m47 0h2m38 0h2m-42 1h2m38 0h2m-148 1h1m209 0h2m-213 1h1m4 0h1m205 0h2m-221 2h1m216 0h2m-220 1h1m217 0h2m-29 2h2m11 0h2m-167 1h3m125 0h2m22 0h2m11 0h2m-166 1h1m126 0h2m-51 2h2m-2 1h2m-74 1h2m71 0h1m-74 1h2m59 3h2m-2 1h2m-111 1h3m106 0h1m-110 1h3m-55 1h2m217 0h1m-220 1h2m217 0h2m-2 1h2m-157 1h1m-20 1h1m17 0h2m14 0h2m-37 1h3m16 0h2m14 0h2m-36 1h1m5 2h1m-2 1h3m-2 1h1m85 1h1m-151 1h2m148 0h2m-152 1h1m149 0h1m-81 1h2m15 0h2m-56 1h1m36 0h2m2 0h1m12 0h2m-57 1h3m38 0h3m12 0h1m-56 1h1m23 0h2m15 0h1m-18 1h2m142 2h2m-2 1h2m28 0h2m-129 1h1m126 0h2m-233 1h3m100 0h3m-106 1h3m101 0h1m-12 4h2m-2 1h2m-125 1h2m-2 1h2m229 4h2m-172 1h2m33 0h1m134 0h2m-201 1h3m26 0h2m32 0h3m-66 1h3m10 0h2m27 0h2m20 0h1m6 0h2m-60 1h2m27 0h2m10 0h2m15 0h2m-19 1h2m-128 1h2m124 0h2m100 0h1m-229 1h2m118 0h3m104 0h3m-110 1h3m105 0h1m56 1h2m-2 1h2m-250 1h1m-1 1h2m-2 1h1m91 1h2m-2 1h2m-12 1h2m77 0h2m-81 1h2m77 0h2m52 2h2m-121 1h2m117 0h2m11 0h2m-134 1h2m130 0h2m-225 7h2m-2 1h2m102 5h2m-33 1h2m29 0h2m-33 1h2m-75 1h3m-3 1h3m202 0h2m59 0h2m-63 1h2m59 0h2m-245 1h2m46 0h2m-50 1h2m46 0h2m21 5h2m-2 1h2m-95 6h3m-62 1h1m59 0h1m-62 1h3m-2 1h1m121 4h2m-2 1h2m-1 2h3m-2 1h1m-42 1h2m-2 1h2m-63 3h2m140 0h2m-144 1h2m35 0h2m103 0h2m57 0h2m-166 1h2m162 0h2m17 8h2m-2 1h2m-248 9h2m-2 1h2m102 2h2m-2 1h2m-93 21h2m-2 1h2"/><path stroke="#3c3cff" d="M147 74.5h4m1 0h8m1 0h2m3 0h4m1 0h4m1 0h2m1 0h6m1 0h2m1 0h4m1 0h4m1 0h2m1 0h4m1 0h4m1 0h4m1 0h4m1 0h8m1 0h2m1 0h4m4 0h4m1 0h8m1 0h4m1 0h2m1 0h4m3 0h2m1 0h2m1 0h4m1 0h6m1 0h4m1 0h8m4 0h2m9 0h2m4 0h4m1 0h4m1 0h2m4 0h2m1 0h4m13 0h4m29 0h2m-247 1h4m1 0h8m1 0h2m3 0h4m1 0h4m1 0h2m1 0h6m1 0h2m1 0h4m1 0h4m1 0h2m1 0h4m1 0h4m1 0h4m1 0h4m1 0h8m1 0h2m1 0h4m4 0h4m1 0h8m1 0h4m1 0h2m1 0h4m3 0h2m1 0h2m1 0h4m1 0h6m1 0h4m1 0h8m4 0h2m9 0h2m4 0h4m1 0h4m1 0h2m4 0h2m1 0h4m13 0h4m29 0h2m-248 1h1m1 0h2m1 0h1m1 0h6m1 0h1m2 0h1m3 0h2m1 0h1m1 0h2m1 0h1m2 0h1m1 0h4m1 0h1m2 0h1m1 0h2m1 0h1m1 0h2m1 0h1m2 0h1m1 0h2m1 0h1m1 0h2m1 0h1m1 0h2m1 0h1m1 0h2m1 0h1m1 0h6m1 0h1m2 0h1m1 0h2m1 0h1m2 0h1m1 0h2m1 0h1m1 0h6m1 0h1m1 0h2m1 0h1m2 0h1m1 0h2m1 0h1m1 0h1m2 0h1m2 0h1m1 0h2m1 0h1m1 0h4m1 0h1m1 0h2m1 0h1m1 0h6m1 0h1m2 0h1m2 0h1m7 0h1m2 0h1m2 0h1m1 0h2m1 0h1m1 0h2m1 0h1m2 0h1m2 0h1m2 0h1m1 0h2m1 0h1m11 0h1m1 0h2m1 0h1m27 0h1m2 0h1m-249 1h16m4 0h73m2 0h28m1 0h33m2 0h4m7 0h4m2 0h14m2 0h9m11 0h6m27 0h4m-166 431h4m-4 1h1m2 0h1m-3 1h2m-2 1h1"/><path stroke="#aaa" d="M105 74.5h2m2 0h2m23 0h2m27 0h2m-60 1h2m2 0h2m23 0h2m27 0h2m-61 1h1m2 0h2m2 0h1m21 0h1m2 0h1m25 0h1m2 0h1m-62 1h8m21 0h4m25 0h4m-66 431h4m20 0h4m12 0h4m-44 1h1m2 0h1m20 0h1m2 0h1m12 0h1m2 0h1m-43 1h2m22 0h2m14 0h2m-42 1h1m23 0h1m15 0h1"/></g><path d="M59 292.9H769.5" stroke="#5c5c5c" stroke-width="2.6" fill="none"/><path d="M59 59H769.5V526.5H59Z" stroke="#000" stroke-width="0.75" fill="none"/><path d="M59 91.25V493.75M51.8 91.25H59M51.8 158.33H59M51.8 225.42H59M51.8 292.50H59M51.8 359.58H59M51.8 426.67H59M51.8 493.75H59" stroke="#000" stroke-width="0.75" fill="none"/><path d="M112.50 526.5H742.50M112.50 526.5V533.7M191.25 526.5V533.7M270.00 526.5V533.7M348.75 526.5V533.7M427.50 526.5V533.7M506.25 526.5V533.7M585.00 526.5V533.7M663.75 526.5V533.7M742.50 526.5V533.7" stroke="#000" stroke-width="0.75" fill="none"/><g font-family="&quot;Liberation Sans&quot;, sans-serif" fill="#000"><text x="414.6" y="34.4" font-size="14.4" font-weight="bold" text-anchor="middle" textLength="432.6" lengthAdjust="spacing">Quantile (M2): MA Plot for Neutrophil.percentage.of.white.cells</text><text transform="translate(42 91.95) rotate(-90)" font-size="12" text-anchor="middle">1.5</text><text transform="translate(42 159.03) rotate(-90)" font-size="12" text-anchor="middle">1.0</text><text transform="translate(42 226.12) rotate(-90)" font-size="12" text-anchor="middle">0.5</text><text transform="translate(42 293.20) rotate(-90)" font-size="12" text-anchor="middle">0.0</text><text transform="translate(42 360.28) rotate(-90)" font-size="12" text-anchor="middle">-0.5</text><text transform="translate(42 427.37) rotate(-90)" font-size="12" text-anchor="middle">-1.0</text><text transform="translate(42 494.45) rotate(-90)" font-size="12" text-anchor="middle">-1.5</text><text x="112.50" y="552" font-size="12" text-anchor="middle">1e-01</text><text x="191.25" y="552" font-size="12" text-anchor="middle">1e+00</text><text x="270.00" y="552" font-size="12" text-anchor="middle">1e+01</text><text x="348.75" y="552" font-size="12" text-anchor="middle">1e+02</text><text x="427.50" y="552" font-size="12" text-anchor="middle">1e+03</text><text x="506.25" y="552" font-size="12" text-anchor="middle">1e+04</text><text x="585.00" y="552" font-size="12" text-anchor="middle">1e+05</text><text x="663.75" y="552" font-size="12" text-anchor="middle">1e+06</text><text x="742.50" y="552" font-size="12" text-anchor="middle">1e+07</text><text x="414.6" y="581.2" font-size="12" text-anchor="middle" textLength="147.3" lengthAdjust="spacing">mean of normalized counts</text><text transform="translate(13.3 293.4) rotate(-90)" font-size="12" text-anchor="middle" textLength="83.7" lengthAdjust="spacing">log fold change</text></g></svg></body></html>
